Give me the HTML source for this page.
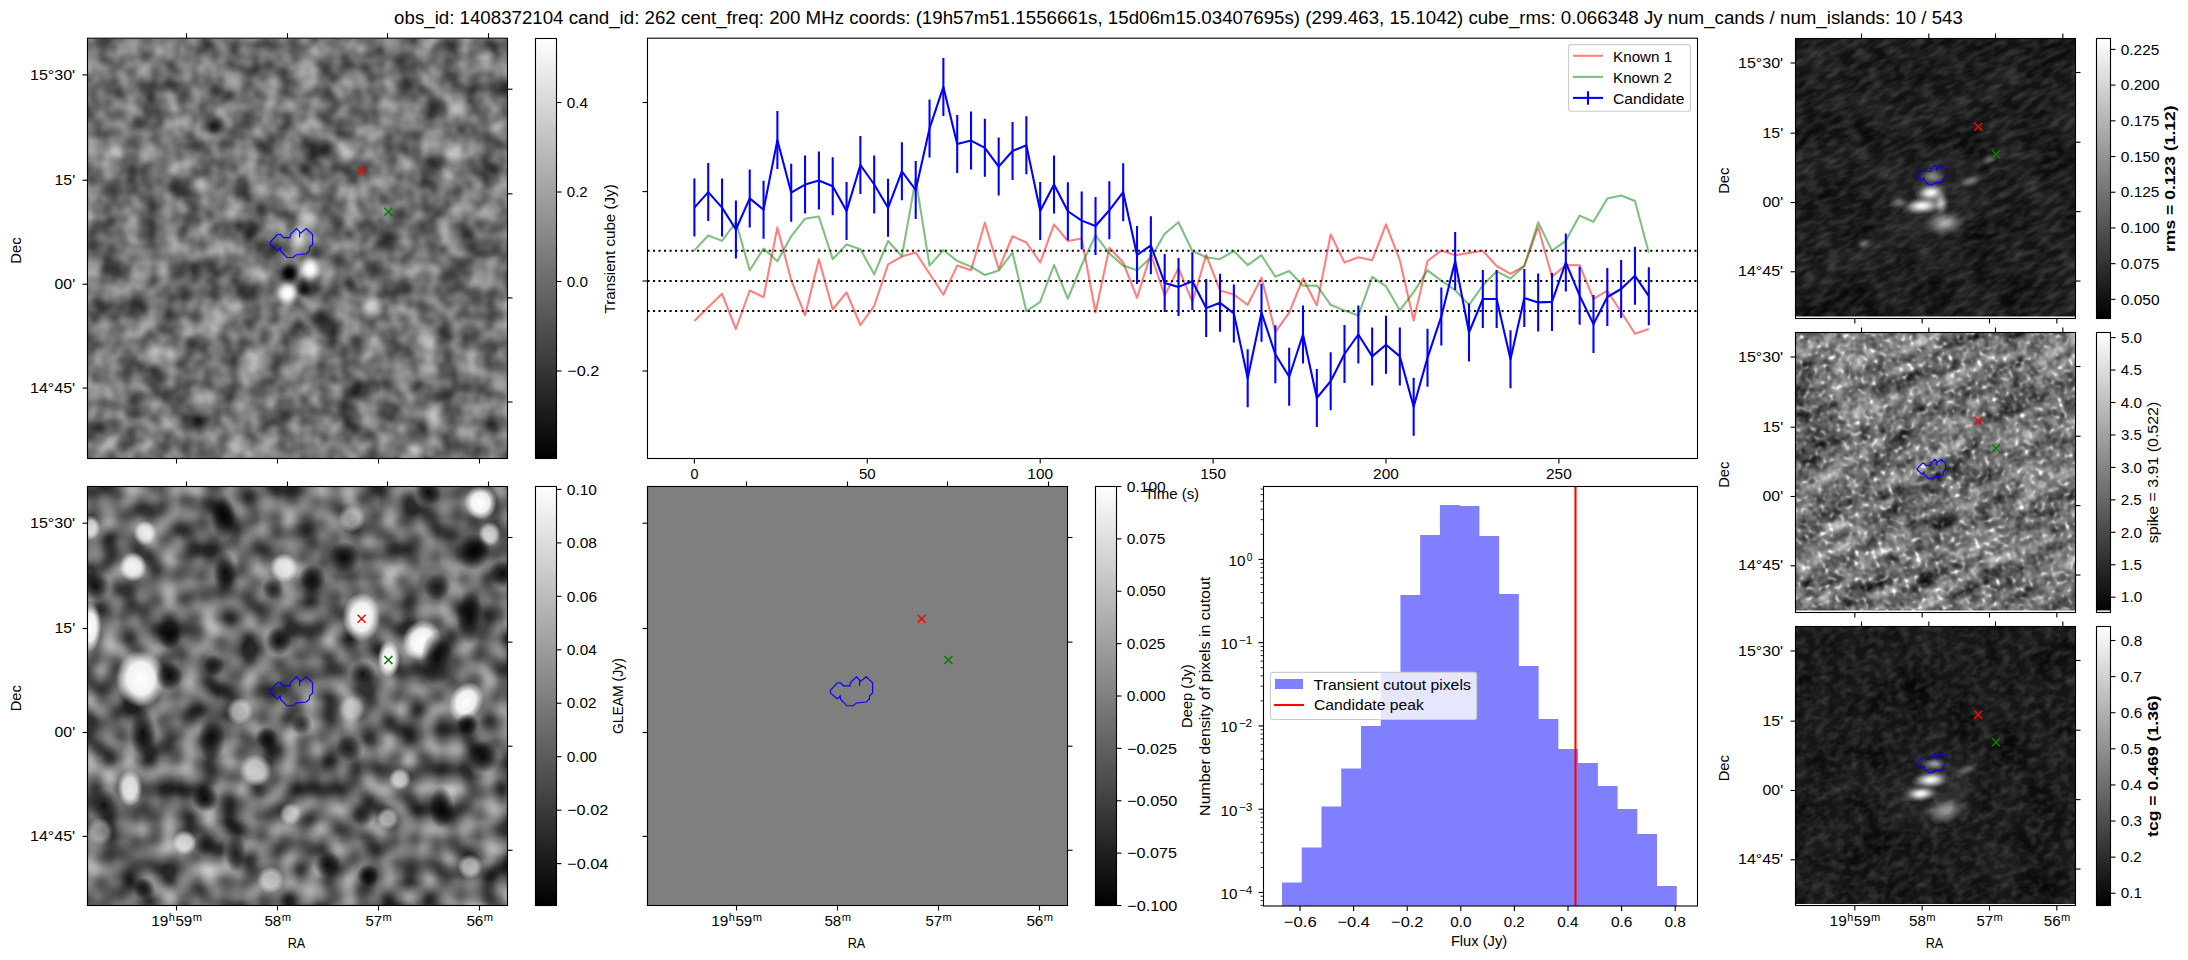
<!DOCTYPE html><html><head><meta charset="utf-8"><style>html,body{margin:0;padding:0;background:#fff;overflow:hidden}svg{display:block}text{font-family:"Liberation Sans",sans-serif}</style></head><body>
<svg width="2188" height="960" viewBox="0 0 2188 960">
<rect x="0" y="0" width="2188" height="960" fill="#fff"/>
<defs>
<linearGradient id="cmap" x1="0" y1="1" x2="0" y2="0"><stop offset="0" stop-color="#000"/><stop offset="1" stop-color="#fff"/></linearGradient>
<filter id="nT1" x="0" y="0" width="1" height="1" color-interpolation-filters="sRGB"><feTurbulence type="fractalNoise" baseFrequency="0.05" numOctaves="2" seed="3" result="t1"/><feColorMatrix in="t1" type="matrix" values="0.7 0 0 0 -0.03 0.7 0 0 0 -0.03 0.7 0 0 0 -0.03 0 0 0 0 1" result="g1"/><feTurbulence type="fractalNoise" baseFrequency="0.03" numOctaves="1" seed="17" result="t2"/><feColorMatrix in="t2" type="matrix" values="0.25 0 0 0 0 0.25 0 0 0 0 0.25 0 0 0 0 0 0 0 0 1" result="g2"/><feComposite in="g1" in2="g2" operator="arithmetic" k1="0" k2="1" k3="1" k4="0" result="sum"/><feComponentTransfer in="sum"><feFuncA type="linear" slope="0" intercept="1"/></feComponentTransfer></filter>
<filter id="nB1" x="0" y="0" width="1" height="1" color-interpolation-filters="sRGB"><feTurbulence type="fractalNoise" baseFrequency="0.05" numOctaves="1" seed="7" result="t1"/><feColorMatrix in="t1" type="matrix" values="1.1 0 0 0 -0.3 1.1 0 0 0 -0.3 1.1 0 0 0 -0.3 0 0 0 0 1" result="g1"/><feTurbulence type="fractalNoise" baseFrequency="0.02" numOctaves="1" seed="21" result="t2"/><feColorMatrix in="t2" type="matrix" values="0.3 0 0 0 0 0.3 0 0 0 0 0.3 0 0 0 0 0 0 0 0 1" result="g2"/><feComposite in="g1" in2="g2" operator="arithmetic" k1="0" k2="1" k3="1" k4="0" result="sum"/><feComponentTransfer in="sum"><feFuncA type="linear" slope="0" intercept="1"/></feComponentTransfer></filter>
<filter id="nR1" x="0" y="0" width="1" height="1" color-interpolation-filters="sRGB"><feTurbulence type="fractalNoise" baseFrequency="0.07 0.16" numOctaves="2" seed="11" result="t1"/><feColorMatrix in="t1" type="matrix" values="0.3 0 0 0 -0.105 0.3 0 0 0 -0.105 0.3 0 0 0 -0.105 0 0 0 0 1" result="g1"/><feTurbulence type="fractalNoise" baseFrequency="0.03" numOctaves="1" seed="23" result="t2"/><feColorMatrix in="t2" type="matrix" values="0.15 0 0 0 0 0.15 0 0 0 0 0.15 0 0 0 0 0 0 0 0 1" result="g2"/><feComposite in="g1" in2="g2" operator="arithmetic" k1="0" k2="1" k3="1" k4="0" result="sum"/><feComponentTransfer in="sum"><feFuncA type="linear" slope="0" intercept="1"/></feComponentTransfer></filter>
<filter id="nR3" x="0" y="0" width="1" height="1" color-interpolation-filters="sRGB"><feTurbulence type="fractalNoise" baseFrequency="0.1 0.14" numOctaves="2" seed="13" result="t1"/><feColorMatrix in="t1" type="matrix" values="0.3 0 0 0 -0.115 0.3 0 0 0 -0.115 0.3 0 0 0 -0.115 0 0 0 0 1" result="g1"/><feTurbulence type="fractalNoise" baseFrequency="0.03" numOctaves="1" seed="29" result="t2"/><feColorMatrix in="t2" type="matrix" values="0.15 0 0 0 0 0.15 0 0 0 0 0.15 0 0 0 0 0 0 0 0 1" result="g2"/><feComposite in="g1" in2="g2" operator="arithmetic" k1="0" k2="1" k3="1" k4="0" result="sum"/><feComponentTransfer in="sum"><feFuncA type="linear" slope="0" intercept="1"/></feComponentTransfer></filter>
<filter id="nR2" x="0" y="0" width="1" height="1" color-interpolation-filters="sRGB"><feTurbulence type="fractalNoise" baseFrequency="0.1" numOctaves="2" seed="5" result="t1"/><feColorMatrix in="t1" type="matrix" values="0.6 0 0 0 0 0.6 0 0 0 0 0.6 0 0 0 0 0 0 0 0 1" result="g1"/><feTurbulence type="fractalNoise" baseFrequency="0.015 0.06" numOctaves="2" seed="9" result="t2"/><feColorMatrix in="t2" type="matrix" values="0.7 0 0 0 0 0.7 0 0 0 0 0.7 0 0 0 0 0 0 0 0 1" result="g2"/><feTurbulence type="fractalNoise" baseFrequency="0.2" numOctaves="1" seed="31" result="t3"/><feColorMatrix in="t3" type="matrix" values="1 0 0 0 0 1 0 0 0 0 1 0 0 0 0 0 0 0 0 1" result="g3a"/><feComponentTransfer in="g3a" result="g3"><feFuncR type="gamma" amplitude="2.5" exponent="6.0" offset="0"/><feFuncG type="gamma" amplitude="2.5" exponent="6.0" offset="0"/><feFuncB type="gamma" amplitude="2.5" exponent="6.0" offset="0"/><feFuncA type="linear" slope="0" intercept="1"/></feComponentTransfer><feComposite in="g1" in2="g2" operator="arithmetic" k1="0" k2="1" k3="1" k4="-0.25" result="s12"/><feComposite in="s12" in2="g3" operator="arithmetic" k1="0" k2="1" k3="1" k4="0" result="sum"/><feComponentTransfer in="sum"><feFuncR type="linear" slope="1" intercept="0"/><feFuncG type="linear" slope="1" intercept="0"/><feFuncB type="linear" slope="1" intercept="0"/><feFuncA type="linear" slope="0" intercept="1"/></feComponentTransfer></filter>
<radialGradient id="blobW"><stop offset="0" stop-color="#fff" stop-opacity="1"/><stop offset="0.55" stop-color="#fff" stop-opacity="0.9"/><stop offset="1" stop-color="#fff" stop-opacity="0"/></radialGradient>
<radialGradient id="blobS"><stop offset="0" stop-color="#fff" stop-opacity="1"/><stop offset="0.25" stop-color="#fff" stop-opacity="0.85"/><stop offset="0.5" stop-color="#fff" stop-opacity="0.5"/><stop offset="0.75" stop-color="#fff" stop-opacity="0.17"/><stop offset="1" stop-color="#fff" stop-opacity="0"/></radialGradient>
<radialGradient id="blobKS"><stop offset="0" stop-color="#000" stop-opacity="1"/><stop offset="0.25" stop-color="#000" stop-opacity="0.82"/><stop offset="0.5" stop-color="#000" stop-opacity="0.45"/><stop offset="0.75" stop-color="#000" stop-opacity="0.15"/><stop offset="1" stop-color="#000" stop-opacity="0"/></radialGradient>
<radialGradient id="blobK"><stop offset="0" stop-color="#000" stop-opacity="0.9"/><stop offset="0.5" stop-color="#000" stop-opacity="0.6"/><stop offset="1" stop-color="#000" stop-opacity="0"/></radialGradient>
<clipPath id="cT1"><rect x="88" y="38.5" width="419" height="419.5"/></clipPath>
<clipPath id="cB1"><rect x="88" y="487" width="419" height="418"/></clipPath>
<clipPath id="cR1"><rect x="1796" y="39" width="279" height="277.5"/></clipPath>
<clipPath id="cR2"><rect x="1796" y="333" width="279" height="277.5"/></clipPath>
<clipPath id="cR3"><rect x="1796" y="627" width="279" height="277"/></clipPath>
</defs>
<text x="394.14" y="23.90" font-size="17.66" textLength="1568.73" lengthAdjust="spacingAndGlyphs" fill="#000">obs_id: 1408372104 cand_id: 262 cent_freq: 200 MHz coords: (19h57m51.1556661s, 15d06m15.03407695s) (299.463, 15.1042) cube_rms: 0.066348 Jy num_cands / num_islands: 10 / 543</text>
<g clip-path="url(#cT1)">
<rect x="87.5" y="38.2" width="420" height="420" filter="url(#nT1)"/>
<ellipse cx="213.90" cy="126.60" rx="14.40" ry="14.40" fill="url(#blobKS)" opacity="0.786"/>
<ellipse cx="174.50" cy="186.80" rx="16.20" ry="16.20" fill="url(#blobKS)" opacity="0.573"/>
<ellipse cx="111.10" cy="189.00" rx="14.40" ry="14.40" fill="url(#blobKS)" opacity="0.530"/>
<ellipse cx="262.00" cy="210.80" rx="14.40" ry="14.40" fill="url(#blobKS)" opacity="0.573"/>
<ellipse cx="268.60" cy="147.40" rx="16.20" ry="16.20" fill="url(#blobKS)" opacity="0.402"/>
<ellipse cx="183.30" cy="97.00" rx="14.40" ry="14.40" fill="url(#blobKS)" opacity="0.402"/>
<ellipse cx="131.80" cy="73.00" rx="14.40" ry="14.40" fill="url(#blobKS)" opacity="0.359"/>
<ellipse cx="218.30" cy="90.50" rx="14.40" ry="14.40" fill="url(#blobKS)" opacity="0.359"/>
<ellipse cx="137.30" cy="121.10" rx="12.60" ry="12.60" fill="url(#blobKS)" opacity="0.316"/>
<ellipse cx="159.20" cy="119.00" rx="10.80" ry="10.80" fill="url(#blobKS)" opacity="0.274"/>
<ellipse cx="240.00" cy="182.40" rx="12.60" ry="12.60" fill="url(#blobKS)" opacity="0.316"/>
<ellipse cx="248.90" cy="121.10" rx="18.00" ry="18.00" fill="url(#blobKS)" opacity="0.316"/>
<ellipse cx="100.00" cy="42.40" rx="14.40" ry="14.40" fill="url(#blobKS)" opacity="0.316"/>
<ellipse cx="189.80" cy="219.60" rx="14.40" ry="14.40" fill="url(#blobKS)" opacity="0.359"/>
<ellipse cx="253.30" cy="230.50" rx="14.40" ry="14.40" fill="url(#blobKS)" opacity="0.316"/>
<ellipse cx="95.80" cy="230.50" rx="14.40" ry="14.40" fill="url(#blobKS)" opacity="0.402"/>
<ellipse cx="235.80" cy="81.80" rx="14.40" ry="14.40" fill="url(#blobS)" opacity="0.348"/>
<ellipse cx="148.30" cy="151.80" rx="14.40" ry="14.40" fill="url(#blobS)" opacity="0.348"/>
<ellipse cx="200.80" cy="184.60" rx="14.40" ry="14.40" fill="url(#blobS)" opacity="0.348"/>
<ellipse cx="259.80" cy="189.00" rx="14.40" ry="14.40" fill="url(#blobS)" opacity="0.420"/>
<ellipse cx="292.60" cy="108.00" rx="14.40" ry="14.40" fill="url(#blobS)" opacity="0.420"/>
<ellipse cx="91.40" cy="151.80" rx="14.40" ry="14.40" fill="url(#blobS)" opacity="0.348"/>
<ellipse cx="183.30" cy="121.10" rx="12.60" ry="12.60" fill="url(#blobS)" opacity="0.312"/>
<ellipse cx="200.80" cy="92.70" rx="14.40" ry="14.40" fill="url(#blobS)" opacity="0.239"/>
<ellipse cx="146.00" cy="66.40" rx="14.40" ry="14.40" fill="url(#blobS)" opacity="0.239"/>
<ellipse cx="220.40" cy="49.00" rx="14.40" ry="14.40" fill="url(#blobS)" opacity="0.239"/>
<ellipse cx="231.40" cy="156.00" rx="14.40" ry="14.40" fill="url(#blobS)" opacity="0.239"/>
<ellipse cx="170.00" cy="230.50" rx="14.40" ry="14.40" fill="url(#blobS)" opacity="0.239"/>
<ellipse cx="325.40" cy="149.60" rx="16.20" ry="16.20" fill="url(#blobKS)" opacity="0.744"/>
<ellipse cx="432.60" cy="162.70" rx="18.00" ry="18.00" fill="url(#blobKS)" opacity="0.701"/>
<ellipse cx="402.00" cy="57.70" rx="16.20" ry="16.20" fill="url(#blobKS)" opacity="0.530"/>
<ellipse cx="399.80" cy="88.30" rx="14.40" ry="14.40" fill="url(#blobKS)" opacity="0.359"/>
<ellipse cx="434.80" cy="108.00" rx="16.20" ry="16.20" fill="url(#blobKS)" opacity="0.402"/>
<ellipse cx="327.60" cy="64.30" rx="14.40" ry="14.40" fill="url(#blobKS)" opacity="0.316"/>
<ellipse cx="504.80" cy="86.00" rx="14.40" ry="14.40" fill="url(#blobKS)" opacity="0.402"/>
<ellipse cx="332.00" cy="186.80" rx="12.60" ry="12.60" fill="url(#blobKS)" opacity="0.359"/>
<ellipse cx="399.80" cy="215.20" rx="14.40" ry="14.40" fill="url(#blobKS)" opacity="0.444"/>
<ellipse cx="338.60" cy="219.60" rx="14.40" ry="14.40" fill="url(#blobKS)" opacity="0.359"/>
<ellipse cx="384.50" cy="239.30" rx="14.40" ry="14.40" fill="url(#blobKS)" opacity="0.359"/>
<ellipse cx="356.00" cy="94.90" rx="14.40" ry="14.40" fill="url(#blobKS)" opacity="0.274"/>
<ellipse cx="489.50" cy="143.00" rx="14.40" ry="14.40" fill="url(#blobKS)" opacity="0.274"/>
<ellipse cx="458.90" cy="105.80" rx="14.40" ry="14.40" fill="url(#blobS)" opacity="0.420"/>
<ellipse cx="454.50" cy="156.10" rx="14.40" ry="14.40" fill="url(#blobS)" opacity="0.384"/>
<ellipse cx="347.30" cy="149.60" rx="14.40" ry="14.40" fill="url(#blobS)" opacity="0.348"/>
<ellipse cx="378.00" cy="182.40" rx="14.40" ry="14.40" fill="url(#blobS)" opacity="0.384"/>
<ellipse cx="406.40" cy="164.90" rx="16.20" ry="16.20" fill="url(#blobS)" opacity="0.348"/>
<ellipse cx="308.00" cy="219.60" rx="14.40" ry="14.40" fill="url(#blobS)" opacity="0.601"/>
<ellipse cx="489.50" cy="208.60" rx="16.20" ry="16.20" fill="url(#blobS)" opacity="0.312"/>
<ellipse cx="485.10" cy="59.90" rx="14.40" ry="14.40" fill="url(#blobS)" opacity="0.348"/>
<ellipse cx="303.60" cy="83.90" rx="14.40" ry="14.40" fill="url(#blobS)" opacity="0.348"/>
<ellipse cx="360.40" cy="77.40" rx="14.40" ry="14.40" fill="url(#blobS)" opacity="0.239"/>
<ellipse cx="437.00" cy="134.30" rx="14.40" ry="14.40" fill="url(#blobS)" opacity="0.239"/>
<ellipse cx="288.30" cy="273.20" rx="14.40" ry="14.40" fill="url(#blobKS)" opacity="0.915"/>
<ellipse cx="198.60" cy="420.80" rx="14.40" ry="14.40" fill="url(#blobKS)" opacity="0.786"/>
<ellipse cx="283.90" cy="414.30" rx="16.20" ry="16.20" fill="url(#blobKS)" opacity="0.615"/>
<ellipse cx="192.00" cy="344.30" rx="14.40" ry="14.40" fill="url(#blobKS)" opacity="0.573"/>
<ellipse cx="157.00" cy="377.10" rx="16.20" ry="16.20" fill="url(#blobKS)" opacity="0.487"/>
<ellipse cx="194.20" cy="318.00" rx="12.60" ry="12.60" fill="url(#blobKS)" opacity="0.359"/>
<ellipse cx="242.30" cy="287.40" rx="14.40" ry="14.40" fill="url(#blobKS)" opacity="0.402"/>
<ellipse cx="279.50" cy="361.80" rx="14.40" ry="14.40" fill="url(#blobKS)" opacity="0.487"/>
<ellipse cx="139.50" cy="300.50" rx="16.20" ry="16.20" fill="url(#blobKS)" opacity="0.444"/>
<ellipse cx="108.90" cy="269.90" rx="14.40" ry="14.40" fill="url(#blobKS)" opacity="0.359"/>
<ellipse cx="100.10" cy="302.70" rx="14.40" ry="14.40" fill="url(#blobKS)" opacity="0.359"/>
<ellipse cx="209.50" cy="261.10" rx="14.40" ry="14.40" fill="url(#blobKS)" opacity="0.359"/>
<ellipse cx="183.30" cy="294.00" rx="14.40" ry="14.40" fill="url(#blobKS)" opacity="0.316"/>
<ellipse cx="141.70" cy="396.80" rx="14.40" ry="14.40" fill="url(#blobKS)" opacity="0.359"/>
<ellipse cx="178.90" cy="401.10" rx="14.40" ry="14.40" fill="url(#blobKS)" opacity="0.316"/>
<ellipse cx="255.50" cy="390.20" rx="14.40" ry="14.40" fill="url(#blobKS)" opacity="0.316"/>
<ellipse cx="100.10" cy="427.40" rx="14.40" ry="14.40" fill="url(#blobKS)" opacity="0.359"/>
<ellipse cx="287.20" cy="292.80" rx="14.40" ry="14.40" fill="url(#blobS)" opacity="0.964"/>
<ellipse cx="218.30" cy="320.20" rx="16.20" ry="16.20" fill="url(#blobS)" opacity="0.420"/>
<ellipse cx="152.60" cy="355.20" rx="16.20" ry="16.20" fill="url(#blobS)" opacity="0.420"/>
<ellipse cx="259.80" cy="357.40" rx="18.00" ry="18.00" fill="url(#blobS)" opacity="0.384"/>
<ellipse cx="200.80" cy="399.00" rx="14.40" ry="14.40" fill="url(#blobS)" opacity="0.420"/>
<ellipse cx="100.10" cy="355.20" rx="14.40" ry="14.40" fill="url(#blobS)" opacity="0.312"/>
<ellipse cx="240.10" cy="409.90" rx="14.40" ry="14.40" fill="url(#blobS)" opacity="0.348"/>
<ellipse cx="141.70" cy="276.40" rx="14.40" ry="14.40" fill="url(#blobS)" opacity="0.275"/>
<ellipse cx="262.00" cy="278.60" rx="14.40" ry="14.40" fill="url(#blobS)" opacity="0.312"/>
<ellipse cx="240.10" cy="440.50" rx="14.40" ry="14.40" fill="url(#blobS)" opacity="0.312"/>
<ellipse cx="288.30" cy="368.30" rx="14.40" ry="14.40" fill="url(#blobS)" opacity="0.348"/>
<ellipse cx="321.10" cy="318.00" rx="18.00" ry="18.00" fill="url(#blobKS)" opacity="0.744"/>
<ellipse cx="303.60" cy="289.60" rx="12.60" ry="12.60" fill="url(#blobKS)" opacity="0.658"/>
<ellipse cx="371.40" cy="269.90" rx="16.20" ry="16.20" fill="url(#blobKS)" opacity="0.530"/>
<ellipse cx="454.50" cy="272.10" rx="19.80" ry="19.80" fill="url(#blobKS)" opacity="0.487"/>
<ellipse cx="426.10" cy="309.30" rx="14.40" ry="14.40" fill="url(#blobKS)" opacity="0.402"/>
<ellipse cx="356.00" cy="344.30" rx="16.20" ry="16.20" fill="url(#blobKS)" opacity="0.444"/>
<ellipse cx="445.80" cy="335.50" rx="16.20" ry="16.20" fill="url(#blobKS)" opacity="0.444"/>
<ellipse cx="356.00" cy="390.20" rx="14.40" ry="14.40" fill="url(#blobKS)" opacity="0.402"/>
<ellipse cx="439.20" cy="396.80" rx="14.40" ry="14.40" fill="url(#blobKS)" opacity="0.444"/>
<ellipse cx="491.70" cy="427.40" rx="14.40" ry="14.40" fill="url(#blobKS)" opacity="0.402"/>
<ellipse cx="413.00" cy="436.10" rx="14.40" ry="14.40" fill="url(#blobKS)" opacity="0.402"/>
<ellipse cx="371.40" cy="324.60" rx="14.40" ry="14.40" fill="url(#blobKS)" opacity="0.359"/>
<ellipse cx="336.40" cy="259.00" rx="14.40" ry="14.40" fill="url(#blobKS)" opacity="0.530"/>
<ellipse cx="476.40" cy="296.10" rx="14.40" ry="14.40" fill="url(#blobKS)" opacity="0.359"/>
<ellipse cx="406.40" cy="287.40" rx="14.40" ry="14.40" fill="url(#blobKS)" opacity="0.359"/>
<ellipse cx="485.10" cy="346.40" rx="14.40" ry="14.40" fill="url(#blobKS)" opacity="0.359"/>
<ellipse cx="310.10" cy="269.90" rx="14.40" ry="14.40" fill="url(#blobS)" opacity="0.891"/>
<ellipse cx="371.40" cy="307.10" rx="14.40" ry="14.40" fill="url(#blobS)" opacity="0.638"/>
<ellipse cx="434.80" cy="416.50" rx="16.20" ry="16.20" fill="url(#blobS)" opacity="0.457"/>
<ellipse cx="423.90" cy="337.70" rx="18.00" ry="18.00" fill="url(#blobS)" opacity="0.312"/>
<ellipse cx="485.10" cy="278.60" rx="16.20" ry="16.20" fill="url(#blobS)" opacity="0.348"/>
<ellipse cx="428.30" cy="370.50" rx="14.40" ry="14.40" fill="url(#blobS)" opacity="0.312"/>
<ellipse cx="299.20" cy="368.30" rx="14.40" ry="14.40" fill="url(#blobS)" opacity="0.384"/>
<ellipse cx="402.00" cy="383.60" rx="14.40" ry="14.40" fill="url(#blobS)" opacity="0.312"/>
<ellipse cx="373.60" cy="342.00" rx="14.40" ry="14.40" fill="url(#blobS)" opacity="0.275"/>
<ellipse cx="498.30" cy="383.60" rx="14.40" ry="14.40" fill="url(#blobS)" opacity="0.312"/>
<ellipse cx="384.50" cy="442.70" rx="14.40" ry="14.40" fill="url(#blobS)" opacity="0.239"/>
<ellipse cx="299.00" cy="236.00" rx="12.00" ry="20.00" fill="url(#blobS)" opacity="0.783"/>
<ellipse cx="310.40" cy="268.50" rx="11.00" ry="15.00" fill="url(#blobS)" opacity="1.000"/>
<ellipse cx="289.60" cy="273.00" rx="11.00" ry="13.00" fill="url(#blobKS)" opacity="1.000"/>
<ellipse cx="287.50" cy="293.50" rx="11.00" ry="12.00" fill="url(#blobS)" opacity="1.000"/>
<ellipse cx="305.20" cy="289.60" rx="9.00" ry="9.00" fill="url(#blobKS)" opacity="0.658"/>
</g>
<polygon points="270.40,242.00 277.40,234.50 280.50,234.50 283.50,237.60 290.10,237.60 290.30,234.50 296.50,228.50 299.70,231.70 299.60,237.60 299.70,233.80 306.30,228.50 312.60,234.50 312.60,244.60 309.50,247.60 309.50,250.70 306.30,253.70 296.40,254.70 293.10,257.50 287.00,257.50 280.50,250.90 280.20,247.60 277.40,250.70 270.40,244.60" fill="none" stroke="#0000ff" stroke-width="1.1" stroke-linejoin="miter"/>
<path d="M357.60,166.50L365.60,174.50M357.60,174.50L365.60,166.50" stroke="#ff0000" stroke-width="1.5" fill="none"/>
<path d="M384.40,207.70L392.40,215.70M384.40,215.70L392.40,207.70" stroke="#008000" stroke-width="1.5" fill="none"/>
<rect x="87.50" y="38.20" width="420.00" height="420.30" fill="none" stroke="#000" stroke-width="1.1"/>
<line x1="82.50" y1="74.90" x2="87.50" y2="74.90" stroke="#000" stroke-width="1.1"/>
<text x="30.00" y="79.50" font-size="14.72" textLength="45.17" lengthAdjust="spacingAndGlyphs" fill="#000">15°30'</text>
<line x1="82.50" y1="180.20" x2="87.50" y2="180.20" stroke="#000" stroke-width="1.1"/>
<text x="54.52" y="184.80" font-size="14.72" textLength="20.65" lengthAdjust="spacingAndGlyphs" fill="#000">15'</text>
<line x1="82.50" y1="284.20" x2="87.50" y2="284.20" stroke="#000" stroke-width="1.1"/>
<text x="54.62" y="288.80" font-size="14.72" textLength="20.54" lengthAdjust="spacingAndGlyphs" fill="#000">00'</text>
<line x1="82.50" y1="388.10" x2="87.50" y2="388.10" stroke="#000" stroke-width="1.1"/>
<text x="30.00" y="392.70" font-size="14.72" textLength="45.17" lengthAdjust="spacingAndGlyphs" fill="#000">14°45'</text>
<line x1="507.50" y1="89.20" x2="512.50" y2="89.20" stroke="#000" stroke-width="1.1"/>
<line x1="507.50" y1="193.80" x2="512.50" y2="193.80" stroke="#000" stroke-width="1.1"/>
<line x1="507.50" y1="297.90" x2="512.50" y2="297.90" stroke="#000" stroke-width="1.1"/>
<line x1="507.50" y1="402.00" x2="512.50" y2="402.00" stroke="#000" stroke-width="1.1"/>
<line x1="186.50" y1="33.20" x2="186.50" y2="38.20" stroke="#000" stroke-width="1.1"/>
<line x1="287.50" y1="33.20" x2="287.50" y2="38.20" stroke="#000" stroke-width="1.1"/>
<line x1="387.50" y1="33.20" x2="387.50" y2="38.20" stroke="#000" stroke-width="1.1"/>
<line x1="488.50" y1="33.20" x2="488.50" y2="38.20" stroke="#000" stroke-width="1.1"/>
<line x1="176.50" y1="458.50" x2="176.50" y2="463.50" stroke="#000" stroke-width="1.1"/>
<line x1="277.50" y1="458.50" x2="277.50" y2="463.50" stroke="#000" stroke-width="1.1"/>
<line x1="378.50" y1="458.50" x2="378.50" y2="463.50" stroke="#000" stroke-width="1.1"/>
<line x1="479.50" y1="458.50" x2="479.50" y2="463.50" stroke="#000" stroke-width="1.1"/>
<text transform="translate(20.90,263.64) rotate(-90)" x="0" y="0" font-size="14.72" textLength="26.25" lengthAdjust="spacingAndGlyphs" fill="#000">Dec</text>
<rect x="535.50" y="38.50" width="21.00" height="420.00" fill="url(#cmap)" stroke="#000" stroke-width="1.1"/>
<line x1="556.50" y1="102.50" x2="561.50" y2="102.50" stroke="#000" stroke-width="1.1"/>
<text x="566.82" y="107.70" font-size="14.72" textLength="21.22" lengthAdjust="spacingAndGlyphs" fill="#000">0.4</text>
<line x1="556.50" y1="192.00" x2="561.50" y2="192.00" stroke="#000" stroke-width="1.1"/>
<text x="566.83" y="197.20" font-size="14.72" textLength="20.91" lengthAdjust="spacingAndGlyphs" fill="#000">0.2</text>
<line x1="556.50" y1="281.50" x2="561.50" y2="281.50" stroke="#000" stroke-width="1.1"/>
<text x="566.82" y="286.70" font-size="14.72" textLength="21.23" lengthAdjust="spacingAndGlyphs" fill="#000">0.0</text>
<line x1="556.50" y1="371.00" x2="561.50" y2="371.00" stroke="#000" stroke-width="1.1"/>
<text x="567.17" y="376.20" font-size="14.72" textLength="32.27" lengthAdjust="spacingAndGlyphs" fill="#000">−0.2</text>
<text transform="translate(614.50,313.38) rotate(-90)" x="0" y="0" font-size="14.72" textLength="129.13" lengthAdjust="spacingAndGlyphs" fill="#000">Transient cube (Jy)</text>
<g clip-path="url(#cB1)">
<rect x="87.5" y="486.5" width="420" height="419" filter="url(#nB1)"/>
<ellipse cx="140.80" cy="678.50" rx="25.00" ry="28.75" fill="url(#blobW)" opacity="1.000"/>
<ellipse cx="361.50" cy="617.30" rx="18.75" ry="25.00" fill="url(#blobW)" opacity="1.000"/>
<ellipse cx="421.70" cy="640.20" rx="18.75" ry="21.25" fill="url(#blobW)" opacity="1.000" transform="rotate(30.0 421.70 640.20)"/>
<ellipse cx="388.90" cy="658.80" rx="11.25" ry="18.75" fill="url(#blobW)" opacity="1.000"/>
<ellipse cx="480.80" cy="502.40" rx="16.25" ry="17.50" fill="url(#blobW)" opacity="1.000"/>
<ellipse cx="466.00" cy="702.00" rx="16.25" ry="21.25" fill="url(#blobW)" opacity="1.000" transform="rotate(30.0 466.00 702.00)"/>
<ellipse cx="90.00" cy="627.00" rx="11.25" ry="25.00" fill="url(#blobW)" opacity="1.000"/>
<ellipse cx="133.00" cy="567.00" rx="13.75" ry="15.00" fill="url(#blobW)" opacity="0.871"/>
<ellipse cx="145.00" cy="533.00" rx="11.25" ry="12.50" fill="url(#blobW)" opacity="0.742"/>
<ellipse cx="283.90" cy="568.00" rx="13.75" ry="15.00" fill="url(#blobW)" opacity="0.806"/>
<ellipse cx="90.30" cy="527.60" rx="10.00" ry="12.50" fill="url(#blobW)" opacity="0.774"/>
<ellipse cx="351.70" cy="518.80" rx="13.75" ry="13.75" fill="url(#blobW)" opacity="0.484"/>
<ellipse cx="489.50" cy="534.00" rx="11.25" ry="12.50" fill="url(#blobW)" opacity="0.645"/>
<ellipse cx="129.70" cy="787.90" rx="12.50" ry="18.75" fill="url(#blobW)" opacity="0.871"/>
<ellipse cx="184.40" cy="842.60" rx="12.50" ry="12.50" fill="url(#blobW)" opacity="0.742"/>
<ellipse cx="255.50" cy="770.40" rx="16.25" ry="16.25" fill="url(#blobW)" opacity="0.645"/>
<ellipse cx="240.10" cy="711.30" rx="13.75" ry="13.75" fill="url(#blobW)" opacity="0.581"/>
<ellipse cx="270.80" cy="879.80" rx="13.75" ry="13.75" fill="url(#blobW)" opacity="0.613"/>
<ellipse cx="100.00" cy="831.60" rx="13.75" ry="13.75" fill="url(#blobW)" opacity="0.452"/>
<ellipse cx="290.50" cy="814.00" rx="11.25" ry="11.25" fill="url(#blobW)" opacity="0.516"/>
<ellipse cx="399.80" cy="779.10" rx="11.25" ry="11.25" fill="url(#blobW)" opacity="0.645"/>
<ellipse cx="387.80" cy="818.50" rx="11.25" ry="11.25" fill="url(#blobW)" opacity="0.581"/>
<ellipse cx="469.80" cy="866.60" rx="12.50" ry="12.50" fill="url(#blobW)" opacity="0.613"/>
<ellipse cx="351.70" cy="709.00" rx="13.75" ry="13.75" fill="url(#blobW)" opacity="0.452"/>
<ellipse cx="224.80" cy="571.30" rx="12.50" ry="20.00" fill="url(#blobK)" opacity="1.000"/>
<ellipse cx="222.60" cy="516.60" rx="12.50" ry="22.50" fill="url(#blobK)" opacity="1.000"/>
<ellipse cx="95.70" cy="586.60" rx="15.00" ry="15.00" fill="url(#blobK)" opacity="1.000"/>
<ellipse cx="169.00" cy="637.00" rx="12.50" ry="12.50" fill="url(#blobK)" opacity="0.900"/>
<ellipse cx="278.40" cy="641.30" rx="13.75" ry="15.00" fill="url(#blobK)" opacity="1.000"/>
<ellipse cx="169.00" cy="676.30" rx="13.75" ry="15.00" fill="url(#blobK)" opacity="1.000"/>
<ellipse cx="273.00" cy="588.80" rx="11.25" ry="11.25" fill="url(#blobK)" opacity="0.800"/>
<ellipse cx="213.90" cy="665.40" rx="11.25" ry="11.25" fill="url(#blobK)" opacity="0.800"/>
<ellipse cx="344.00" cy="558.20" rx="16.25" ry="16.25" fill="url(#blobK)" opacity="1.000"/>
<ellipse cx="428.30" cy="492.60" rx="13.75" ry="13.75" fill="url(#blobK)" opacity="1.000"/>
<ellipse cx="472.00" cy="551.60" rx="18.75" ry="18.75" fill="url(#blobK)" opacity="1.000"/>
<ellipse cx="502.60" cy="573.50" rx="13.75" ry="15.00" fill="url(#blobK)" opacity="1.000"/>
<ellipse cx="437.00" cy="658.80" rx="16.25" ry="27.50" fill="url(#blobK)" opacity="1.000"/>
<ellipse cx="362.60" cy="674.00" rx="13.75" ry="13.75" fill="url(#blobK)" opacity="1.000"/>
<ellipse cx="469.80" cy="617.30" rx="13.75" ry="27.50" fill="url(#blobK)" opacity="1.000"/>
<ellipse cx="437.00" cy="586.60" rx="13.75" ry="13.75" fill="url(#blobK)" opacity="0.900"/>
<ellipse cx="312.30" cy="577.90" rx="13.75" ry="13.75" fill="url(#blobK)" opacity="0.900"/>
<ellipse cx="104.50" cy="805.40" rx="16.25" ry="16.25" fill="url(#blobK)" opacity="1.000"/>
<ellipse cx="142.80" cy="733.20" rx="13.75" ry="23.75" fill="url(#blobK)" opacity="1.000"/>
<ellipse cx="211.70" cy="737.60" rx="13.75" ry="23.75" fill="url(#blobK)" opacity="1.000"/>
<ellipse cx="205.10" cy="798.80" rx="13.75" ry="13.75" fill="url(#blobK)" opacity="1.000"/>
<ellipse cx="266.40" cy="737.60" rx="11.25" ry="11.25" fill="url(#blobK)" opacity="0.900"/>
<ellipse cx="235.80" cy="853.50" rx="11.25" ry="18.75" fill="url(#blobK)" opacity="0.900"/>
<ellipse cx="205.00" cy="844.80" rx="11.25" ry="11.25" fill="url(#blobK)" opacity="0.800"/>
<ellipse cx="143.90" cy="888.50" rx="11.25" ry="11.25" fill="url(#blobK)" opacity="0.900"/>
<ellipse cx="483.00" cy="757.30" rx="16.25" ry="16.25" fill="url(#blobK)" opacity="1.000"/>
<ellipse cx="441.40" cy="807.60" rx="12.50" ry="21.25" fill="url(#blobK)" opacity="1.000"/>
<ellipse cx="349.50" cy="748.50" rx="13.75" ry="13.75" fill="url(#blobK)" opacity="0.850"/>
<ellipse cx="327.60" cy="864.50" rx="13.75" ry="13.75" fill="url(#blobK)" opacity="1.000"/>
<ellipse cx="368.10" cy="875.40" rx="11.25" ry="11.25" fill="url(#blobK)" opacity="1.000"/>
<ellipse cx="467.60" cy="724.40" rx="11.25" ry="11.25" fill="url(#blobK)" opacity="1.000"/>
<ellipse cx="301.40" cy="724.40" rx="11.25" ry="11.25" fill="url(#blobK)" opacity="0.800"/>
<ellipse cx="362.60" cy="816.30" rx="11.25" ry="11.25" fill="url(#blobK)" opacity="0.700"/>
</g>
<polygon points="270.40,690.30 277.40,682.80 280.50,682.80 283.50,685.90 290.10,685.90 290.30,682.80 296.50,676.80 299.70,680.00 299.60,685.90 299.70,682.10 306.30,676.80 312.60,682.80 312.60,692.90 309.50,695.90 309.50,699.00 306.30,702.00 296.40,703.00 293.10,705.80 287.00,705.80 280.50,699.20 280.20,695.90 277.40,699.00 270.40,692.90" fill="none" stroke="#0000ff" stroke-width="1.1" stroke-linejoin="miter"/>
<path d="M357.60,614.80L365.60,622.80M357.60,622.80L365.60,614.80" stroke="#ff0000" stroke-width="1.5" fill="none"/>
<path d="M384.40,656.00L392.40,664.00M384.40,664.00L392.40,656.00" stroke="#008000" stroke-width="1.5" fill="none"/>
<rect x="87.50" y="486.50" width="420.00" height="419.00" fill="none" stroke="#000" stroke-width="1.1"/>
<line x1="82.50" y1="523.20" x2="87.50" y2="523.20" stroke="#000" stroke-width="1.1"/>
<text x="30.00" y="527.80" font-size="14.72" textLength="45.17" lengthAdjust="spacingAndGlyphs" fill="#000">15°30'</text>
<line x1="82.50" y1="628.50" x2="87.50" y2="628.50" stroke="#000" stroke-width="1.1"/>
<text x="54.52" y="633.10" font-size="14.72" textLength="20.65" lengthAdjust="spacingAndGlyphs" fill="#000">15'</text>
<line x1="82.50" y1="732.50" x2="87.50" y2="732.50" stroke="#000" stroke-width="1.1"/>
<text x="54.62" y="737.10" font-size="14.72" textLength="20.54" lengthAdjust="spacingAndGlyphs" fill="#000">00'</text>
<line x1="82.50" y1="836.40" x2="87.50" y2="836.40" stroke="#000" stroke-width="1.1"/>
<text x="30.00" y="841.00" font-size="14.72" textLength="45.17" lengthAdjust="spacingAndGlyphs" fill="#000">14°45'</text>
<line x1="507.50" y1="537.50" x2="512.50" y2="537.50" stroke="#000" stroke-width="1.1"/>
<line x1="507.50" y1="642.10" x2="512.50" y2="642.10" stroke="#000" stroke-width="1.1"/>
<line x1="507.50" y1="746.20" x2="512.50" y2="746.20" stroke="#000" stroke-width="1.1"/>
<line x1="507.50" y1="850.30" x2="512.50" y2="850.30" stroke="#000" stroke-width="1.1"/>
<line x1="186.50" y1="481.50" x2="186.50" y2="486.50" stroke="#000" stroke-width="1.1"/>
<line x1="287.50" y1="481.50" x2="287.50" y2="486.50" stroke="#000" stroke-width="1.1"/>
<line x1="387.50" y1="481.50" x2="387.50" y2="486.50" stroke="#000" stroke-width="1.1"/>
<line x1="488.50" y1="481.50" x2="488.50" y2="486.50" stroke="#000" stroke-width="1.1"/>
<line x1="176.50" y1="905.50" x2="176.50" y2="910.50" stroke="#000" stroke-width="1.1"/>
<text x="151.29" y="925.60" font-size="14.72" textLength="17.15" lengthAdjust="spacingAndGlyphs" fill="#000">19</text>
<text x="168.82" y="920.60" font-size="10.30" textLength="5.99" lengthAdjust="spacingAndGlyphs" fill="#000">h</text>
<text x="175.40" y="925.60" font-size="14.72" textLength="16.91" lengthAdjust="spacingAndGlyphs" fill="#000">59</text>
<text x="192.71" y="920.60" font-size="10.30" textLength="9.26" lengthAdjust="spacingAndGlyphs" fill="#000">m</text>
<line x1="277.50" y1="905.50" x2="277.50" y2="910.50" stroke="#000" stroke-width="1.1"/>
<text x="264.40" y="925.60" font-size="14.72" textLength="16.87" lengthAdjust="spacingAndGlyphs" fill="#000">58</text>
<text x="281.71" y="920.60" font-size="10.30" textLength="9.26" lengthAdjust="spacingAndGlyphs" fill="#000">m</text>
<line x1="378.50" y1="905.50" x2="378.50" y2="910.50" stroke="#000" stroke-width="1.1"/>
<text x="365.47" y="925.60" font-size="14.72" textLength="16.59" lengthAdjust="spacingAndGlyphs" fill="#000">57</text>
<text x="382.64" y="920.60" font-size="10.30" textLength="9.26" lengthAdjust="spacingAndGlyphs" fill="#000">m</text>
<line x1="479.50" y1="905.50" x2="479.50" y2="910.50" stroke="#000" stroke-width="1.1"/>
<text x="466.40" y="925.60" font-size="14.72" textLength="16.96" lengthAdjust="spacingAndGlyphs" fill="#000">56</text>
<text x="483.71" y="920.60" font-size="10.30" textLength="9.26" lengthAdjust="spacingAndGlyphs" fill="#000">m</text>
<text transform="translate(20.90,711.29) rotate(-90)" x="0" y="0" font-size="14.72" textLength="26.25" lengthAdjust="spacingAndGlyphs" fill="#000">Dec</text>
<text x="287.66" y="947.70" font-size="14.72" textLength="17.56" lengthAdjust="spacingAndGlyphs" fill="#000">RA</text>
<rect x="535.50" y="486.50" width="21.00" height="419.00" fill="url(#cmap)" stroke="#000" stroke-width="1.1"/>
<line x1="556.50" y1="489.40" x2="561.50" y2="489.40" stroke="#000" stroke-width="1.1"/>
<text x="566.81" y="494.60" font-size="14.72" textLength="30.12" lengthAdjust="spacingAndGlyphs" fill="#000">0.10</text>
<line x1="556.50" y1="542.86" x2="561.50" y2="542.86" stroke="#000" stroke-width="1.1"/>
<text x="566.81" y="548.06" font-size="14.72" textLength="30.16" lengthAdjust="spacingAndGlyphs" fill="#000">0.08</text>
<line x1="556.50" y1="596.32" x2="561.50" y2="596.32" stroke="#000" stroke-width="1.1"/>
<text x="566.81" y="601.52" font-size="14.72" textLength="30.25" lengthAdjust="spacingAndGlyphs" fill="#000">0.06</text>
<line x1="556.50" y1="649.78" x2="561.50" y2="649.78" stroke="#000" stroke-width="1.1"/>
<text x="566.81" y="654.98" font-size="14.72" textLength="29.98" lengthAdjust="spacingAndGlyphs" fill="#000">0.04</text>
<line x1="556.50" y1="703.24" x2="561.50" y2="703.24" stroke="#000" stroke-width="1.1"/>
<text x="566.82" y="708.44" font-size="14.72" textLength="29.68" lengthAdjust="spacingAndGlyphs" fill="#000">0.02</text>
<line x1="556.50" y1="756.70" x2="561.50" y2="756.70" stroke="#000" stroke-width="1.1"/>
<text x="566.81" y="761.90" font-size="14.72" textLength="29.99" lengthAdjust="spacingAndGlyphs" fill="#000">0.00</text>
<line x1="556.50" y1="810.16" x2="561.50" y2="810.16" stroke="#000" stroke-width="1.1"/>
<text x="567.17" y="815.36" font-size="14.72" textLength="41.00" lengthAdjust="spacingAndGlyphs" fill="#000">−0.02</text>
<line x1="556.50" y1="863.62" x2="561.50" y2="863.62" stroke="#000" stroke-width="1.1"/>
<text x="567.17" y="868.82" font-size="14.72" textLength="41.28" lengthAdjust="spacingAndGlyphs" fill="#000">−0.04</text>
<text transform="translate(622.80,734.05) rotate(-90)" x="0" y="0" font-size="14.72" textLength="75.84" lengthAdjust="spacingAndGlyphs" fill="#000">GLEAM (Jy)</text>
<rect x="647.5" y="486.5" width="420" height="419" fill="#7f7f7f"/>
<polygon points="830.40,690.30 837.40,682.80 840.50,682.80 843.50,685.90 850.10,685.90 850.30,682.80 856.50,676.80 859.70,680.00 859.60,685.90 859.70,682.10 866.30,676.80 872.60,682.80 872.60,692.90 869.50,695.90 869.50,699.00 866.30,702.00 856.40,703.00 853.10,705.80 847.00,705.80 840.50,699.20 840.20,695.90 837.40,699.00 830.40,692.90" fill="none" stroke="#0000ff" stroke-width="1.1" stroke-linejoin="miter"/>
<path d="M917.60,614.80L925.60,622.80M917.60,622.80L925.60,614.80" stroke="#ff0000" stroke-width="1.5" fill="none"/>
<path d="M944.40,656.00L952.40,664.00M944.40,664.00L952.40,656.00" stroke="#008000" stroke-width="1.5" fill="none"/>
<rect x="647.50" y="486.50" width="420.00" height="419.00" fill="none" stroke="#000" stroke-width="1.1"/>
<line x1="642.50" y1="523.20" x2="647.50" y2="523.20" stroke="#000" stroke-width="1.1"/>
<line x1="642.50" y1="628.50" x2="647.50" y2="628.50" stroke="#000" stroke-width="1.1"/>
<line x1="642.50" y1="732.50" x2="647.50" y2="732.50" stroke="#000" stroke-width="1.1"/>
<line x1="642.50" y1="836.40" x2="647.50" y2="836.40" stroke="#000" stroke-width="1.1"/>
<line x1="1067.50" y1="537.50" x2="1072.50" y2="537.50" stroke="#000" stroke-width="1.1"/>
<line x1="1067.50" y1="642.10" x2="1072.50" y2="642.10" stroke="#000" stroke-width="1.1"/>
<line x1="1067.50" y1="746.20" x2="1072.50" y2="746.20" stroke="#000" stroke-width="1.1"/>
<line x1="1067.50" y1="850.30" x2="1072.50" y2="850.30" stroke="#000" stroke-width="1.1"/>
<line x1="746.50" y1="481.50" x2="746.50" y2="486.50" stroke="#000" stroke-width="1.1"/>
<line x1="847.50" y1="481.50" x2="847.50" y2="486.50" stroke="#000" stroke-width="1.1"/>
<line x1="947.50" y1="481.50" x2="947.50" y2="486.50" stroke="#000" stroke-width="1.1"/>
<line x1="1048.50" y1="481.50" x2="1048.50" y2="486.50" stroke="#000" stroke-width="1.1"/>
<line x1="736.50" y1="905.50" x2="736.50" y2="910.50" stroke="#000" stroke-width="1.1"/>
<text x="711.29" y="925.60" font-size="14.72" textLength="17.15" lengthAdjust="spacingAndGlyphs" fill="#000">19</text>
<text x="728.82" y="920.60" font-size="10.30" textLength="5.99" lengthAdjust="spacingAndGlyphs" fill="#000">h</text>
<text x="735.40" y="925.60" font-size="14.72" textLength="16.91" lengthAdjust="spacingAndGlyphs" fill="#000">59</text>
<text x="752.71" y="920.60" font-size="10.30" textLength="9.26" lengthAdjust="spacingAndGlyphs" fill="#000">m</text>
<line x1="837.50" y1="905.50" x2="837.50" y2="910.50" stroke="#000" stroke-width="1.1"/>
<text x="824.40" y="925.60" font-size="14.72" textLength="16.87" lengthAdjust="spacingAndGlyphs" fill="#000">58</text>
<text x="841.71" y="920.60" font-size="10.30" textLength="9.26" lengthAdjust="spacingAndGlyphs" fill="#000">m</text>
<line x1="938.50" y1="905.50" x2="938.50" y2="910.50" stroke="#000" stroke-width="1.1"/>
<text x="925.47" y="925.60" font-size="14.72" textLength="16.59" lengthAdjust="spacingAndGlyphs" fill="#000">57</text>
<text x="942.64" y="920.60" font-size="10.30" textLength="9.26" lengthAdjust="spacingAndGlyphs" fill="#000">m</text>
<line x1="1039.50" y1="905.50" x2="1039.50" y2="910.50" stroke="#000" stroke-width="1.1"/>
<text x="1026.40" y="925.60" font-size="14.72" textLength="16.96" lengthAdjust="spacingAndGlyphs" fill="#000">56</text>
<text x="1043.71" y="920.60" font-size="10.30" textLength="9.26" lengthAdjust="spacingAndGlyphs" fill="#000">m</text>
<text x="847.66" y="947.70" font-size="14.72" textLength="17.56" lengthAdjust="spacingAndGlyphs" fill="#000">RA</text>
<rect x="1095.50" y="486.50" width="21.00" height="419.00" fill="url(#cmap)" stroke="#000" stroke-width="1.1"/>
<line x1="1116.50" y1="486.50" x2="1121.50" y2="486.50" stroke="#000" stroke-width="1.1"/>
<text x="1126.81" y="491.70" font-size="14.72" textLength="38.88" lengthAdjust="spacingAndGlyphs" fill="#000">0.100</text>
<line x1="1116.50" y1="538.88" x2="1121.50" y2="538.88" stroke="#000" stroke-width="1.1"/>
<text x="1126.81" y="544.08" font-size="14.72" textLength="38.49" lengthAdjust="spacingAndGlyphs" fill="#000">0.075</text>
<line x1="1116.50" y1="591.25" x2="1121.50" y2="591.25" stroke="#000" stroke-width="1.1"/>
<text x="1126.81" y="596.45" font-size="14.72" textLength="38.75" lengthAdjust="spacingAndGlyphs" fill="#000">0.050</text>
<line x1="1116.50" y1="643.62" x2="1121.50" y2="643.62" stroke="#000" stroke-width="1.1"/>
<text x="1126.81" y="648.83" font-size="14.72" textLength="38.49" lengthAdjust="spacingAndGlyphs" fill="#000">0.025</text>
<line x1="1116.50" y1="696.00" x2="1121.50" y2="696.00" stroke="#000" stroke-width="1.1"/>
<text x="1126.81" y="701.20" font-size="14.72" textLength="38.75" lengthAdjust="spacingAndGlyphs" fill="#000">0.000</text>
<line x1="1116.50" y1="748.38" x2="1121.50" y2="748.38" stroke="#000" stroke-width="1.1"/>
<text x="1127.18" y="753.58" font-size="14.72" textLength="49.79" lengthAdjust="spacingAndGlyphs" fill="#000">−0.025</text>
<line x1="1116.50" y1="800.75" x2="1121.50" y2="800.75" stroke="#000" stroke-width="1.1"/>
<text x="1127.17" y="805.95" font-size="14.72" textLength="50.04" lengthAdjust="spacingAndGlyphs" fill="#000">−0.050</text>
<line x1="1116.50" y1="853.12" x2="1121.50" y2="853.12" stroke="#000" stroke-width="1.1"/>
<text x="1127.18" y="858.33" font-size="14.72" textLength="49.79" lengthAdjust="spacingAndGlyphs" fill="#000">−0.075</text>
<line x1="1116.50" y1="905.50" x2="1121.50" y2="905.50" stroke="#000" stroke-width="1.1"/>
<text x="1127.17" y="910.70" font-size="14.72" textLength="50.17" lengthAdjust="spacingAndGlyphs" fill="#000">−0.100</text>
<text transform="translate(1192.00,727.90) rotate(-90)" x="0" y="0" font-size="14.72" textLength="63.68" lengthAdjust="spacingAndGlyphs" fill="#000">Deep (Jy)</text>
<g clip-path="url(#cR1)">
<rect x="1738.04" y="-19.71" width="394.92" height="394.92" filter="url(#nR1)" transform="rotate(-25 1935.50 177.75)"/>
<ellipse cx="1928.00" cy="200.00" rx="70.00" ry="55.00" fill="url(#blobS)" opacity="0.080" transform="rotate(-20.0 1928.00 200.00)"/>
<ellipse cx="1930.80" cy="192.70" rx="16.80" ry="9.80" fill="url(#blobS)" opacity="1.000" transform="rotate(-8.0 1930.80 192.70)"/>
<ellipse cx="1922.10" cy="205.80" rx="21.00" ry="9.10" fill="url(#blobS)" opacity="1.000" transform="rotate(-5.0 1922.10 205.80)"/>
<ellipse cx="1941.00" cy="203.00" rx="8.40" ry="12.60" fill="url(#blobS)" opacity="0.711"/>
<ellipse cx="1945.40" cy="223.30" rx="22.40" ry="12.60" fill="url(#blobS)" opacity="0.622" transform="rotate(-10.0 1945.40 223.30)"/>
<ellipse cx="1932.30" cy="176.70" rx="15.40" ry="8.40" fill="url(#blobS)" opacity="0.444"/>
<ellipse cx="1970.20" cy="181.00" rx="14.00" ry="7.00" fill="url(#blobS)" opacity="0.422" transform="rotate(-20.0 1970.20 181.00)"/>
<ellipse cx="1898.80" cy="203.00" rx="11.20" ry="7.00" fill="url(#blobS)" opacity="0.311"/>
<ellipse cx="1863.80" cy="243.80" rx="8.40" ry="7.00" fill="url(#blobS)" opacity="0.333"/>
<ellipse cx="1989.20" cy="159.20" rx="9.80" ry="7.00" fill="url(#blobS)" opacity="0.311" transform="rotate(-20.0 1989.20 159.20)"/>
</g>
<polygon points="1917.43,174.37 1922.10,169.37 1924.17,169.37 1926.17,171.43 1930.57,171.43 1930.70,169.37 1934.83,165.37 1936.97,167.50 1936.90,171.43 1936.97,168.90 1941.37,165.37 1945.57,169.37 1945.57,176.10 1943.50,178.10 1943.50,180.17 1941.37,182.17 1934.77,182.83 1932.57,184.70 1928.50,184.70 1924.17,180.30 1923.97,178.10 1922.10,180.17 1917.43,176.10" fill="none" stroke="#0000ff" stroke-width="1.1" stroke-linejoin="miter"/>
<path d="M1974.23,122.70L1982.23,130.70M1974.23,130.70L1982.23,122.70" stroke="#ff0000" stroke-width="1.5" fill="none"/>
<path d="M1992.10,150.17L2000.10,158.17M1992.10,158.17L2000.10,150.17" stroke="#008000" stroke-width="1.5" fill="none"/>
<rect x="1795.50" y="38.50" width="280.00" height="280.00" fill="none" stroke="#000" stroke-width="1.1"/>
<line x1="1790.50" y1="62.97" x2="1795.50" y2="62.97" stroke="#000" stroke-width="1.1"/>
<text x="1738.00" y="67.57" font-size="14.72" textLength="45.17" lengthAdjust="spacingAndGlyphs" fill="#000">15°30'</text>
<line x1="1790.50" y1="133.17" x2="1795.50" y2="133.17" stroke="#000" stroke-width="1.1"/>
<text x="1762.52" y="137.77" font-size="14.72" textLength="20.65" lengthAdjust="spacingAndGlyphs" fill="#000">15'</text>
<line x1="1790.50" y1="202.50" x2="1795.50" y2="202.50" stroke="#000" stroke-width="1.1"/>
<text x="1762.62" y="207.10" font-size="14.72" textLength="20.54" lengthAdjust="spacingAndGlyphs" fill="#000">00'</text>
<line x1="1790.50" y1="271.77" x2="1795.50" y2="271.77" stroke="#000" stroke-width="1.1"/>
<text x="1738.00" y="276.37" font-size="14.72" textLength="45.17" lengthAdjust="spacingAndGlyphs" fill="#000">14°45'</text>
<line x1="2075.50" y1="72.50" x2="2080.50" y2="72.50" stroke="#000" stroke-width="1.1"/>
<line x1="2075.50" y1="142.23" x2="2080.50" y2="142.23" stroke="#000" stroke-width="1.1"/>
<line x1="2075.50" y1="211.63" x2="2080.50" y2="211.63" stroke="#000" stroke-width="1.1"/>
<line x1="2075.50" y1="281.03" x2="2080.50" y2="281.03" stroke="#000" stroke-width="1.1"/>
<line x1="1861.50" y1="33.50" x2="1861.50" y2="38.50" stroke="#000" stroke-width="1.1"/>
<line x1="1928.83" y1="33.50" x2="1928.83" y2="38.50" stroke="#000" stroke-width="1.1"/>
<line x1="1995.50" y1="33.50" x2="1995.50" y2="38.50" stroke="#000" stroke-width="1.1"/>
<line x1="2062.83" y1="33.50" x2="2062.83" y2="38.50" stroke="#000" stroke-width="1.1"/>
<line x1="1854.83" y1="318.50" x2="1854.83" y2="323.50" stroke="#000" stroke-width="1.1"/>
<line x1="1922.17" y1="318.50" x2="1922.17" y2="323.50" stroke="#000" stroke-width="1.1"/>
<line x1="1989.50" y1="318.50" x2="1989.50" y2="323.50" stroke="#000" stroke-width="1.1"/>
<line x1="2056.83" y1="318.50" x2="2056.83" y2="323.50" stroke="#000" stroke-width="1.1"/>
<text transform="translate(1728.90,193.79) rotate(-90)" x="0" y="0" font-size="14.72" textLength="26.25" lengthAdjust="spacingAndGlyphs" fill="#000">Dec</text>
<g clip-path="url(#cR2)">
<rect x="1738.04" y="274.29" width="394.92" height="394.92" filter="url(#nR2)" transform="rotate(-22 1935.50 471.75)"/>
<ellipse cx="1945.50" cy="520.00" rx="18.00" ry="12.00" fill="url(#blobK)" opacity="0.746" transform="rotate(-20.0 1945.50 520.00)"/>
<ellipse cx="1881.00" cy="390.70" rx="12.00" ry="9.60" fill="url(#blobK)" opacity="0.661"/>
<ellipse cx="1926.00" cy="579.70" rx="10.80" ry="9.60" fill="url(#blobK)" opacity="0.661"/>
<ellipse cx="1935.00" cy="490.00" rx="14.40" ry="9.60" fill="url(#blobK)" opacity="0.492"/>
</g>
<polygon points="1917.43,468.37 1922.10,463.37 1924.17,463.37 1926.17,465.43 1930.57,465.43 1930.70,463.37 1934.83,459.37 1936.97,461.50 1936.90,465.43 1936.97,462.90 1941.37,459.37 1945.57,463.37 1945.57,470.10 1943.50,472.10 1943.50,474.17 1941.37,476.17 1934.77,476.83 1932.57,478.70 1928.50,478.70 1924.17,474.30 1923.97,472.10 1922.10,474.17 1917.43,470.10" fill="none" stroke="#0000ff" stroke-width="1.1" stroke-linejoin="miter"/>
<path d="M1974.23,416.70L1982.23,424.70M1974.23,424.70L1982.23,416.70" stroke="#ff0000" stroke-width="1.5" fill="none"/>
<path d="M1992.10,444.17L2000.10,452.17M1992.10,452.17L2000.10,444.17" stroke="#008000" stroke-width="1.5" fill="none"/>
<rect x="1795.50" y="332.50" width="280.00" height="280.00" fill="none" stroke="#000" stroke-width="1.1"/>
<line x1="1790.50" y1="356.97" x2="1795.50" y2="356.97" stroke="#000" stroke-width="1.1"/>
<text x="1738.00" y="361.57" font-size="14.72" textLength="45.17" lengthAdjust="spacingAndGlyphs" fill="#000">15°30'</text>
<line x1="1790.50" y1="427.17" x2="1795.50" y2="427.17" stroke="#000" stroke-width="1.1"/>
<text x="1762.52" y="431.77" font-size="14.72" textLength="20.65" lengthAdjust="spacingAndGlyphs" fill="#000">15'</text>
<line x1="1790.50" y1="496.50" x2="1795.50" y2="496.50" stroke="#000" stroke-width="1.1"/>
<text x="1762.62" y="501.10" font-size="14.72" textLength="20.54" lengthAdjust="spacingAndGlyphs" fill="#000">00'</text>
<line x1="1790.50" y1="565.77" x2="1795.50" y2="565.77" stroke="#000" stroke-width="1.1"/>
<text x="1738.00" y="570.37" font-size="14.72" textLength="45.17" lengthAdjust="spacingAndGlyphs" fill="#000">14°45'</text>
<line x1="2075.50" y1="366.50" x2="2080.50" y2="366.50" stroke="#000" stroke-width="1.1"/>
<line x1="2075.50" y1="436.23" x2="2080.50" y2="436.23" stroke="#000" stroke-width="1.1"/>
<line x1="2075.50" y1="505.63" x2="2080.50" y2="505.63" stroke="#000" stroke-width="1.1"/>
<line x1="2075.50" y1="575.03" x2="2080.50" y2="575.03" stroke="#000" stroke-width="1.1"/>
<line x1="1861.50" y1="327.50" x2="1861.50" y2="332.50" stroke="#000" stroke-width="1.1"/>
<line x1="1928.83" y1="327.50" x2="1928.83" y2="332.50" stroke="#000" stroke-width="1.1"/>
<line x1="1995.50" y1="327.50" x2="1995.50" y2="332.50" stroke="#000" stroke-width="1.1"/>
<line x1="2062.83" y1="327.50" x2="2062.83" y2="332.50" stroke="#000" stroke-width="1.1"/>
<line x1="1854.83" y1="612.50" x2="1854.83" y2="617.50" stroke="#000" stroke-width="1.1"/>
<line x1="1922.17" y1="612.50" x2="1922.17" y2="617.50" stroke="#000" stroke-width="1.1"/>
<line x1="1989.50" y1="612.50" x2="1989.50" y2="617.50" stroke="#000" stroke-width="1.1"/>
<line x1="2056.83" y1="612.50" x2="2056.83" y2="617.50" stroke="#000" stroke-width="1.1"/>
<text transform="translate(1728.90,487.79) rotate(-90)" x="0" y="0" font-size="14.72" textLength="26.25" lengthAdjust="spacingAndGlyphs" fill="#000">Dec</text>
<g clip-path="url(#cR3)">
<rect x="1738.04" y="568.29" width="394.92" height="394.92" filter="url(#nR3)" transform="rotate(-25 1935.50 765.75)"/>
<ellipse cx="1930.00" cy="790.00" rx="70.00" ry="55.00" fill="url(#blobS)" opacity="0.075" transform="rotate(-20.0 1930.00 790.00)"/>
<ellipse cx="1930.80" cy="779.80" rx="19.60" ry="9.10" fill="url(#blobS)" opacity="1.000" transform="rotate(-5.0 1930.80 779.80)"/>
<ellipse cx="1920.60" cy="793.70" rx="18.20" ry="8.40" fill="url(#blobS)" opacity="1.000" transform="rotate(-5.0 1920.60 793.70)"/>
<ellipse cx="1945.40" cy="810.40" rx="22.40" ry="14.00" fill="url(#blobS)" opacity="0.537" transform="rotate(-10.0 1945.40 810.40)"/>
<ellipse cx="1933.80" cy="763.80" rx="14.00" ry="7.00" fill="url(#blobS)" opacity="0.537"/>
<ellipse cx="1967.30" cy="769.60" rx="11.20" ry="5.60" fill="url(#blobS)" opacity="0.317" transform="rotate(-20.0 1967.30 769.60)"/>
</g>
<polygon points="1917.43,762.37 1922.10,757.37 1924.17,757.37 1926.17,759.43 1930.57,759.43 1930.70,757.37 1934.83,753.37 1936.97,755.50 1936.90,759.43 1936.97,756.90 1941.37,753.37 1945.57,757.37 1945.57,764.10 1943.50,766.10 1943.50,768.17 1941.37,770.17 1934.77,770.83 1932.57,772.70 1928.50,772.70 1924.17,768.30 1923.97,766.10 1922.10,768.17 1917.43,764.10" fill="none" stroke="#0000ff" stroke-width="1.1" stroke-linejoin="miter"/>
<path d="M1974.23,710.70L1982.23,718.70M1974.23,718.70L1982.23,710.70" stroke="#ff0000" stroke-width="1.5" fill="none"/>
<path d="M1992.10,738.17L2000.10,746.17M1992.10,746.17L2000.10,738.17" stroke="#008000" stroke-width="1.5" fill="none"/>
<rect x="1795.50" y="626.50" width="280.00" height="279.00" fill="none" stroke="#000" stroke-width="1.1"/>
<line x1="1790.50" y1="650.97" x2="1795.50" y2="650.97" stroke="#000" stroke-width="1.1"/>
<text x="1738.00" y="655.57" font-size="14.72" textLength="45.17" lengthAdjust="spacingAndGlyphs" fill="#000">15°30'</text>
<line x1="1790.50" y1="721.17" x2="1795.50" y2="721.17" stroke="#000" stroke-width="1.1"/>
<text x="1762.52" y="725.77" font-size="14.72" textLength="20.65" lengthAdjust="spacingAndGlyphs" fill="#000">15'</text>
<line x1="1790.50" y1="790.50" x2="1795.50" y2="790.50" stroke="#000" stroke-width="1.1"/>
<text x="1762.62" y="795.10" font-size="14.72" textLength="20.54" lengthAdjust="spacingAndGlyphs" fill="#000">00'</text>
<line x1="1790.50" y1="859.77" x2="1795.50" y2="859.77" stroke="#000" stroke-width="1.1"/>
<text x="1738.00" y="864.37" font-size="14.72" textLength="45.17" lengthAdjust="spacingAndGlyphs" fill="#000">14°45'</text>
<line x1="2075.50" y1="660.50" x2="2080.50" y2="660.50" stroke="#000" stroke-width="1.1"/>
<line x1="2075.50" y1="730.23" x2="2080.50" y2="730.23" stroke="#000" stroke-width="1.1"/>
<line x1="2075.50" y1="799.63" x2="2080.50" y2="799.63" stroke="#000" stroke-width="1.1"/>
<line x1="2075.50" y1="869.03" x2="2080.50" y2="869.03" stroke="#000" stroke-width="1.1"/>
<line x1="1861.50" y1="621.50" x2="1861.50" y2="626.50" stroke="#000" stroke-width="1.1"/>
<line x1="1928.83" y1="621.50" x2="1928.83" y2="626.50" stroke="#000" stroke-width="1.1"/>
<line x1="1995.50" y1="621.50" x2="1995.50" y2="626.50" stroke="#000" stroke-width="1.1"/>
<line x1="2062.83" y1="621.50" x2="2062.83" y2="626.50" stroke="#000" stroke-width="1.1"/>
<line x1="1854.83" y1="905.50" x2="1854.83" y2="910.50" stroke="#000" stroke-width="1.1"/>
<text x="1829.62" y="925.60" font-size="14.72" textLength="17.15" lengthAdjust="spacingAndGlyphs" fill="#000">19</text>
<text x="1847.16" y="920.60" font-size="10.30" textLength="5.99" lengthAdjust="spacingAndGlyphs" fill="#000">h</text>
<text x="1853.73" y="925.60" font-size="14.72" textLength="16.91" lengthAdjust="spacingAndGlyphs" fill="#000">59</text>
<text x="1871.04" y="920.60" font-size="10.30" textLength="9.26" lengthAdjust="spacingAndGlyphs" fill="#000">m</text>
<line x1="1922.17" y1="905.50" x2="1922.17" y2="910.50" stroke="#000" stroke-width="1.1"/>
<text x="1909.07" y="925.60" font-size="14.72" textLength="16.87" lengthAdjust="spacingAndGlyphs" fill="#000">58</text>
<text x="1926.37" y="920.60" font-size="10.30" textLength="9.26" lengthAdjust="spacingAndGlyphs" fill="#000">m</text>
<line x1="1989.50" y1="905.50" x2="1989.50" y2="910.50" stroke="#000" stroke-width="1.1"/>
<text x="1976.47" y="925.60" font-size="14.72" textLength="16.59" lengthAdjust="spacingAndGlyphs" fill="#000">57</text>
<text x="1993.64" y="920.60" font-size="10.30" textLength="9.26" lengthAdjust="spacingAndGlyphs" fill="#000">m</text>
<line x1="2056.83" y1="905.50" x2="2056.83" y2="910.50" stroke="#000" stroke-width="1.1"/>
<text x="2043.73" y="925.60" font-size="14.72" textLength="16.96" lengthAdjust="spacingAndGlyphs" fill="#000">56</text>
<text x="2061.04" y="920.60" font-size="10.30" textLength="9.26" lengthAdjust="spacingAndGlyphs" fill="#000">m</text>
<text transform="translate(1728.90,781.29) rotate(-90)" x="0" y="0" font-size="14.72" textLength="26.25" lengthAdjust="spacingAndGlyphs" fill="#000">Dec</text>
<text x="1925.66" y="947.70" font-size="14.72" textLength="17.56" lengthAdjust="spacingAndGlyphs" fill="#000">RA</text>
<rect x="2096.50" y="38.50" width="14.00" height="280.00" fill="url(#cmap)" stroke="#000" stroke-width="1.1"/>
<line x1="2110.50" y1="49.40" x2="2115.50" y2="49.40" stroke="#000" stroke-width="1.1"/>
<text x="2120.81" y="54.60" font-size="14.72" textLength="38.49" lengthAdjust="spacingAndGlyphs" fill="#000">0.225</text>
<line x1="2110.50" y1="85.11" x2="2115.50" y2="85.11" stroke="#000" stroke-width="1.1"/>
<text x="2120.81" y="90.31" font-size="14.72" textLength="38.75" lengthAdjust="spacingAndGlyphs" fill="#000">0.200</text>
<line x1="2110.50" y1="120.82" x2="2115.50" y2="120.82" stroke="#000" stroke-width="1.1"/>
<text x="2120.81" y="126.02" font-size="14.72" textLength="38.62" lengthAdjust="spacingAndGlyphs" fill="#000">0.175</text>
<line x1="2110.50" y1="156.53" x2="2115.50" y2="156.53" stroke="#000" stroke-width="1.1"/>
<text x="2120.81" y="161.73" font-size="14.72" textLength="38.88" lengthAdjust="spacingAndGlyphs" fill="#000">0.150</text>
<line x1="2110.50" y1="192.24" x2="2115.50" y2="192.24" stroke="#000" stroke-width="1.1"/>
<text x="2120.81" y="197.44" font-size="14.72" textLength="38.62" lengthAdjust="spacingAndGlyphs" fill="#000">0.125</text>
<line x1="2110.50" y1="227.95" x2="2115.50" y2="227.95" stroke="#000" stroke-width="1.1"/>
<text x="2120.81" y="233.15" font-size="14.72" textLength="38.88" lengthAdjust="spacingAndGlyphs" fill="#000">0.100</text>
<line x1="2110.50" y1="263.66" x2="2115.50" y2="263.66" stroke="#000" stroke-width="1.1"/>
<text x="2120.81" y="268.86" font-size="14.72" textLength="38.49" lengthAdjust="spacingAndGlyphs" fill="#000">0.075</text>
<line x1="2110.50" y1="299.37" x2="2115.50" y2="299.37" stroke="#000" stroke-width="1.1"/>
<text x="2120.81" y="304.57" font-size="14.72" textLength="38.75" lengthAdjust="spacingAndGlyphs" fill="#000">0.050</text>
<text transform="translate(2174.70,251.99) rotate(-90)" x="0" y="0" font-size="14.72" font-weight="bold" textLength="146.67" lengthAdjust="spacingAndGlyphs" fill="#000">rms = 0.123 (1.12)</text>
<rect x="2096.50" y="332.50" width="14.00" height="280.00" fill="url(#cmap)" stroke="#000" stroke-width="1.1"/>
<line x1="2110.50" y1="337.60" x2="2115.50" y2="337.60" stroke="#000" stroke-width="1.1"/>
<text x="2120.96" y="342.80" font-size="14.72" textLength="21.08" lengthAdjust="spacingAndGlyphs" fill="#000">5.0</text>
<line x1="2110.50" y1="370.05" x2="2115.50" y2="370.05" stroke="#000" stroke-width="1.1"/>
<text x="2120.83" y="375.25" font-size="14.72" textLength="20.96" lengthAdjust="spacingAndGlyphs" fill="#000">4.5</text>
<line x1="2110.50" y1="402.50" x2="2115.50" y2="402.50" stroke="#000" stroke-width="1.1"/>
<text x="2120.83" y="407.70" font-size="14.72" textLength="21.22" lengthAdjust="spacingAndGlyphs" fill="#000">4.0</text>
<line x1="2110.50" y1="434.95" x2="2115.50" y2="434.95" stroke="#000" stroke-width="1.1"/>
<text x="2120.99" y="440.15" font-size="14.72" textLength="20.80" lengthAdjust="spacingAndGlyphs" fill="#000">3.5</text>
<line x1="2110.50" y1="467.40" x2="2115.50" y2="467.40" stroke="#000" stroke-width="1.1"/>
<text x="2120.98" y="472.60" font-size="14.72" textLength="21.06" lengthAdjust="spacingAndGlyphs" fill="#000">3.0</text>
<line x1="2110.50" y1="499.85" x2="2115.50" y2="499.85" stroke="#000" stroke-width="1.1"/>
<text x="2120.76" y="505.05" font-size="14.72" textLength="21.04" lengthAdjust="spacingAndGlyphs" fill="#000">2.5</text>
<line x1="2110.50" y1="532.30" x2="2115.50" y2="532.30" stroke="#000" stroke-width="1.1"/>
<text x="2120.75" y="537.50" font-size="14.72" textLength="21.30" lengthAdjust="spacingAndGlyphs" fill="#000">2.0</text>
<line x1="2110.50" y1="564.75" x2="2115.50" y2="564.75" stroke="#000" stroke-width="1.1"/>
<text x="2120.87" y="569.95" font-size="14.72" textLength="21.05" lengthAdjust="spacingAndGlyphs" fill="#000">1.5</text>
<line x1="2110.50" y1="597.20" x2="2115.50" y2="597.20" stroke="#000" stroke-width="1.1"/>
<text x="2120.86" y="602.40" font-size="14.72" textLength="21.32" lengthAdjust="spacingAndGlyphs" fill="#000">1.0</text>
<text transform="translate(2157.50,543.13) rotate(-90)" x="0" y="0" font-size="14.72" textLength="141.36" lengthAdjust="spacingAndGlyphs" fill="#000">spike = 3.91 (0.522)</text>
<rect x="2097.1" y="610.4" width="12.8" height="1.5" fill="#fff"/>
<rect x="2096.50" y="626.50" width="14.00" height="279.00" fill="url(#cmap)" stroke="#000" stroke-width="1.1"/>
<line x1="2110.50" y1="640.50" x2="2115.50" y2="640.50" stroke="#000" stroke-width="1.1"/>
<text x="2120.81" y="645.70" font-size="14.72" textLength="21.41" lengthAdjust="spacingAndGlyphs" fill="#000">0.8</text>
<line x1="2110.50" y1="676.61" x2="2115.50" y2="676.61" stroke="#000" stroke-width="1.1"/>
<text x="2120.82" y="681.81" font-size="14.72" textLength="21.13" lengthAdjust="spacingAndGlyphs" fill="#000">0.7</text>
<line x1="2110.50" y1="712.72" x2="2115.50" y2="712.72" stroke="#000" stroke-width="1.1"/>
<text x="2120.81" y="717.92" font-size="14.72" textLength="21.49" lengthAdjust="spacingAndGlyphs" fill="#000">0.6</text>
<line x1="2110.50" y1="748.83" x2="2115.50" y2="748.83" stroke="#000" stroke-width="1.1"/>
<text x="2120.83" y="754.03" font-size="14.72" textLength="20.97" lengthAdjust="spacingAndGlyphs" fill="#000">0.5</text>
<line x1="2110.50" y1="784.94" x2="2115.50" y2="784.94" stroke="#000" stroke-width="1.1"/>
<text x="2120.82" y="790.14" font-size="14.72" textLength="21.22" lengthAdjust="spacingAndGlyphs" fill="#000">0.4</text>
<line x1="2110.50" y1="821.05" x2="2115.50" y2="821.05" stroke="#000" stroke-width="1.1"/>
<text x="2120.82" y="826.25" font-size="14.72" textLength="21.11" lengthAdjust="spacingAndGlyphs" fill="#000">0.3</text>
<line x1="2110.50" y1="857.16" x2="2115.50" y2="857.16" stroke="#000" stroke-width="1.1"/>
<text x="2120.83" y="862.36" font-size="14.72" textLength="20.91" lengthAdjust="spacingAndGlyphs" fill="#000">0.2</text>
<line x1="2110.50" y1="893.27" x2="2115.50" y2="893.27" stroke="#000" stroke-width="1.1"/>
<text x="2120.82" y="898.47" font-size="14.72" textLength="21.14" lengthAdjust="spacingAndGlyphs" fill="#000">0.1</text>
<text transform="translate(2158.00,836.97) rotate(-90)" x="0" y="0" font-size="14.72" font-weight="bold" textLength="141.59" lengthAdjust="spacingAndGlyphs" fill="#000">tcg = 0.469 (1.36)</text>
<line x1="647.5" y1="250.8" x2="1697.5" y2="250.8" stroke="#000" stroke-width="2.08" stroke-dasharray="2.08,3.43"/>
<line x1="647.5" y1="281.0" x2="1697.5" y2="281.0" stroke="#000" stroke-width="2.08" stroke-dasharray="2.08,3.43"/>
<line x1="647.5" y1="311.0" x2="1697.5" y2="311.0" stroke="#000" stroke-width="2.08" stroke-dasharray="2.08,3.43"/>
<polyline points="694.40,320.90 708.23,307.30 722.06,293.80 735.90,329.00 749.73,290.50 763.56,297.30 777.39,227.40 791.22,280.20 805.06,315.40 818.89,259.30 832.72,309.50 846.55,292.40 860.38,325.00 874.22,306.00 888.05,264.40 901.88,256.60 915.71,252.50 929.54,273.75 943.38,294.70 957.21,265.60 971.04,270.30 984.87,222.80 998.70,269.00 1012.54,236.25 1026.37,242.50 1040.20,262.50 1054.03,224.40 1067.86,241.00 1081.70,238.40 1095.53,312.50 1109.36,247.80 1123.19,262.50 1137.02,297.80 1150.86,254.00 1164.69,295.60 1178.52,268.10 1192.35,301.90 1206.18,255.00 1220.02,290.40 1233.85,294.50 1247.68,304.80 1261.51,277.70 1275.34,332.20 1289.18,312.70 1303.01,278.50 1316.84,305.40 1330.67,234.50 1344.50,262.50 1358.34,257.30 1372.17,260.20 1386.00,224.30 1399.83,260.20 1413.66,320.50 1427.50,261.00 1441.33,250.60 1455.16,255.20 1468.99,252.90 1482.82,250.80 1496.66,266.00 1510.49,273.90 1524.32,266.00 1538.15,227.20 1551.98,276.80 1565.82,265.00 1579.65,265.20 1593.48,298.80 1607.31,290.70 1621.14,312.00 1634.98,333.80 1648.81,329.00" fill="none" stroke="#ff0000" stroke-width="2.08" stroke-opacity="0.5" stroke-linejoin="round" stroke-linecap="butt"/>
<polyline points="694.40,250.40 708.23,235.50 722.06,240.90 735.90,222.00 749.73,270.20 763.56,248.50 777.39,261.20 791.22,236.30 805.06,218.70 818.89,216.50 832.72,259.30 846.55,244.40 860.38,249.20 874.22,274.30 888.05,241.00 901.88,256.25 915.71,179.00 929.54,265.60 943.38,250.00 957.21,261.00 971.04,266.60 984.87,275.00 998.70,270.60 1012.54,252.50 1026.37,311.25 1040.20,301.90 1054.03,265.00 1067.86,298.75 1081.70,265.00 1095.53,235.30 1109.36,253.40 1123.19,265.60 1137.02,270.30 1150.86,257.80 1164.69,233.75 1178.52,222.20 1192.35,251.00 1206.18,257.20 1220.02,259.20 1233.85,251.00 1247.68,265.10 1261.51,255.20 1275.34,276.80 1289.18,271.00 1303.01,285.80 1316.84,285.50 1330.67,304.80 1344.50,310.60 1358.34,315.60 1372.17,276.80 1386.00,286.40 1399.83,310.30 1413.66,292.20 1427.50,270.40 1441.33,280.60 1455.16,290.20 1468.99,304.80 1482.82,285.50 1496.66,271.30 1510.49,278.50 1524.32,266.00 1538.15,222.30 1551.98,250.60 1565.82,240.80 1579.65,215.60 1593.48,221.80 1607.31,198.60 1621.14,195.50 1634.98,201.00 1648.81,252.80" fill="none" stroke="#008000" stroke-width="2.08" stroke-opacity="0.5" stroke-linejoin="round" stroke-linecap="butt"/>
<polyline points="694.40,207.60 708.23,192.10 722.06,207.60 735.90,229.50 749.73,198.40 763.56,209.80 777.39,140.10 791.22,192.70 805.06,184.60 818.89,180.50 832.72,186.20 846.55,211.10 860.38,165.00 874.22,184.50 888.05,207.80 901.88,171.30 915.71,190.00 929.54,128.40 943.38,86.90 957.21,144.00 971.04,140.60 984.87,147.80 998.70,166.60 1012.54,151.00 1026.37,145.30 1040.20,211.00 1054.03,184.40 1067.86,211.25 1081.70,220.60 1095.53,226.00 1109.36,210.30 1123.19,192.20 1137.02,255.00 1150.86,245.30 1164.69,283.10 1178.52,286.90 1192.35,281.25 1206.18,308.10 1220.02,302.80 1233.85,313.40 1247.68,378.30 1261.51,312.70 1275.34,354.30 1289.18,376.80 1303.01,334.50 1316.84,398.00 1330.67,381.20 1344.50,354.00 1358.34,334.50 1372.17,356.40 1386.00,344.70 1399.83,356.40 1413.66,406.80 1427.50,357.80 1441.33,316.40 1455.16,261.00 1468.99,332.50 1482.82,299.00 1496.66,299.00 1510.49,359.30 1524.32,298.00 1538.15,302.40 1551.98,301.90 1565.82,262.50 1579.65,295.70 1593.48,324.10 1607.31,297.00 1621.14,289.00 1634.98,275.80 1648.81,296.20" fill="none" stroke="#0000ff" stroke-width="2.08" stroke-opacity="1.0" stroke-linejoin="round" stroke-linecap="butt"/>
<path d="M694.40,178.60V236.60M708.23,163.10V221.10M722.06,178.60V236.60M735.90,200.50V258.50M749.73,169.40V227.40M763.56,180.80V238.80M777.39,111.10V169.10M791.22,163.70V221.70M805.06,155.60V213.60M818.89,151.50V209.50M832.72,157.20V215.20M846.55,182.10V240.10M860.38,136.00V194.00M874.22,155.50V213.50M888.05,178.80V236.80M901.88,142.30V200.30M915.71,161.00V219.00M929.54,99.40V157.40M943.38,57.90V115.90M957.21,115.00V173.00M971.04,111.60V169.60M984.87,118.80V176.80M998.70,137.60V195.60M1012.54,122.00V180.00M1026.37,116.30V174.30M1040.20,182.00V240.00M1054.03,155.40V213.40M1067.86,182.25V240.25M1081.70,191.60V249.60M1095.53,197.00V255.00M1109.36,181.30V239.30M1123.19,163.20V221.20M1137.02,226.00V284.00M1150.86,216.30V274.30M1164.69,254.10V312.10M1178.52,257.90V315.90M1192.35,252.25V310.25M1206.18,279.10V337.10M1220.02,273.80V331.80M1233.85,284.40V342.40M1247.68,349.30V407.30M1261.51,283.70V341.70M1275.34,325.30V383.30M1289.18,347.80V405.80M1303.01,305.50V363.50M1316.84,369.00V427.00M1330.67,352.20V410.20M1344.50,325.00V383.00M1358.34,305.50V363.50M1372.17,327.40V385.40M1386.00,315.70V373.70M1399.83,327.40V385.40M1413.66,377.80V435.80M1427.50,328.80V386.80M1441.33,287.40V345.40M1455.16,232.00V290.00M1468.99,303.50V361.50M1482.82,270.00V328.00M1496.66,270.00V328.00M1510.49,330.30V388.30M1524.32,269.00V327.00M1538.15,273.40V331.40M1551.98,272.90V330.90M1565.82,233.50V291.50M1579.65,266.70V324.70M1593.48,295.10V353.10M1607.31,268.00V326.00M1621.14,260.00V318.00M1634.98,246.80V304.80M1648.81,267.20V325.20" stroke="#0000ff" stroke-width="2.08" fill="none"/>
<rect x="647.5" y="38.2" width="1050.0" height="420.3" fill="none" stroke="#000" stroke-width="1.1"/>
<line x1="642.50" y1="102.50" x2="647.50" y2="102.50" stroke="#000" stroke-width="1.1"/>
<line x1="642.50" y1="191.60" x2="647.50" y2="191.60" stroke="#000" stroke-width="1.1"/>
<line x1="642.50" y1="281.00" x2="647.50" y2="281.00" stroke="#000" stroke-width="1.1"/>
<line x1="642.50" y1="371.00" x2="647.50" y2="371.00" stroke="#000" stroke-width="1.1"/>
<line x1="694.40" y1="458.50" x2="694.40" y2="463.50" stroke="#000" stroke-width="1.1"/>
<text x="690.38" y="479.20" font-size="14.72" textLength="8.04" lengthAdjust="spacingAndGlyphs" fill="#000">0</text>
<line x1="867.30" y1="458.50" x2="867.30" y2="463.50" stroke="#000" stroke-width="1.1"/>
<text x="859.02" y="479.20" font-size="14.72" textLength="16.69" lengthAdjust="spacingAndGlyphs" fill="#000">50</text>
<line x1="1040.20" y1="458.50" x2="1040.20" y2="463.50" stroke="#000" stroke-width="1.1"/>
<text x="1027.37" y="479.20" font-size="14.72" textLength="25.70" lengthAdjust="spacingAndGlyphs" fill="#000">100</text>
<line x1="1213.10" y1="458.50" x2="1213.10" y2="463.50" stroke="#000" stroke-width="1.1"/>
<text x="1200.27" y="479.20" font-size="14.72" textLength="25.70" lengthAdjust="spacingAndGlyphs" fill="#000">150</text>
<line x1="1386.00" y1="458.50" x2="1386.00" y2="463.50" stroke="#000" stroke-width="1.1"/>
<text x="1373.12" y="479.20" font-size="14.72" textLength="25.69" lengthAdjust="spacingAndGlyphs" fill="#000">200</text>
<line x1="1558.90" y1="458.50" x2="1558.90" y2="463.50" stroke="#000" stroke-width="1.1"/>
<text x="1546.02" y="479.20" font-size="14.72" textLength="25.69" lengthAdjust="spacingAndGlyphs" fill="#000">250</text>
<text x="1144.76" y="498.90" font-size="14.72" textLength="54.37" lengthAdjust="spacingAndGlyphs" fill="#000">Time (s)</text>
<rect x="1568.5" y="44.6" width="121.9" height="66.7" rx="2.8" ry="2.8" fill="#fff" fill-opacity="0.8" stroke="#cccccc" stroke-width="1.1"/>
<line x1="1573" y1="55.8" x2="1603" y2="55.8" stroke="#ff0000" stroke-opacity="0.5" stroke-width="2.08"/>
<line x1="1573" y1="76.9" x2="1603" y2="76.9" stroke="#008000" stroke-opacity="0.5" stroke-width="2.08"/>
<line x1="1573" y1="97.9" x2="1603" y2="97.9" stroke="#0000ff" stroke-width="2.08"/>
<line x1="1588" y1="91.2" x2="1588" y2="104.7" stroke="#0000ff" stroke-width="2.08"/>
<text x="1613.12" y="61.60" font-size="14.72" textLength="58.96" lengthAdjust="spacingAndGlyphs" fill="#000">Known 1</text>
<text x="1613.12" y="82.70" font-size="14.72" textLength="58.74" lengthAdjust="spacingAndGlyphs" fill="#000">Known 2</text>
<text x="1612.99" y="103.60" font-size="14.72" textLength="71.35" lengthAdjust="spacingAndGlyphs" fill="#000">Candidate</text>
<path d="M1282.00,906.0L1282.00,882.50L1301.74,882.50L1301.74,847.50L1321.48,847.50L1321.48,806.50L1341.22,806.50L1341.22,768.50L1360.96,768.50L1360.96,726.00L1380.70,726.00L1380.70,672.40L1400.44,672.40L1400.44,595.00L1420.18,595.00L1420.18,535.00L1439.92,535.00L1439.92,505.10L1459.66,505.10L1459.66,506.00L1479.40,506.00L1479.40,536.10L1499.14,536.10L1499.14,594.10L1518.88,594.10L1518.88,666.00L1538.62,666.00L1538.62,719.00L1558.36,719.00L1558.36,749.00L1578.10,749.00L1578.10,763.00L1597.84,763.00L1597.84,786.00L1617.58,786.00L1617.58,809.00L1637.32,809.00L1637.32,834.00L1657.06,834.00L1657.06,886.00L1676.80,886.00L1676.80,906.0Z" fill="#8080ff"/>
<line x1="1575.50" y1="486.50" x2="1575.50" y2="906.00" stroke="#ff0000" stroke-width="2.08"/>
<rect x="1263.5" y="486.5" width="434.0" height="419.5" fill="none" stroke="#000" stroke-width="1.1"/>
<line x1="1300.00" y1="906.00" x2="1300.00" y2="911.00" stroke="#000" stroke-width="1.1"/>
<text x="1283.84" y="926.60" font-size="14.72" textLength="32.83" lengthAdjust="spacingAndGlyphs" fill="#000">−0.6</text>
<line x1="1353.60" y1="906.00" x2="1353.60" y2="911.00" stroke="#000" stroke-width="1.1"/>
<text x="1337.51" y="926.60" font-size="14.72" textLength="32.54" lengthAdjust="spacingAndGlyphs" fill="#000">−0.4</text>
<line x1="1407.20" y1="906.00" x2="1407.20" y2="911.00" stroke="#000" stroke-width="1.1"/>
<text x="1391.12" y="926.60" font-size="14.72" textLength="32.27" lengthAdjust="spacingAndGlyphs" fill="#000">−0.2</text>
<line x1="1460.80" y1="906.00" x2="1460.80" y2="911.00" stroke="#000" stroke-width="1.1"/>
<text x="1450.18" y="926.60" font-size="14.72" textLength="21.23" lengthAdjust="spacingAndGlyphs" fill="#000">0.0</text>
<line x1="1514.40" y1="906.00" x2="1514.40" y2="911.00" stroke="#000" stroke-width="1.1"/>
<text x="1503.79" y="926.60" font-size="14.72" textLength="20.91" lengthAdjust="spacingAndGlyphs" fill="#000">0.2</text>
<line x1="1568.00" y1="906.00" x2="1568.00" y2="911.00" stroke="#000" stroke-width="1.1"/>
<text x="1557.38" y="926.60" font-size="14.72" textLength="21.22" lengthAdjust="spacingAndGlyphs" fill="#000">0.4</text>
<line x1="1621.60" y1="906.00" x2="1621.60" y2="911.00" stroke="#000" stroke-width="1.1"/>
<text x="1610.91" y="926.60" font-size="14.72" textLength="21.49" lengthAdjust="spacingAndGlyphs" fill="#000">0.6</text>
<line x1="1675.20" y1="906.00" x2="1675.20" y2="911.00" stroke="#000" stroke-width="1.1"/>
<text x="1664.51" y="926.60" font-size="14.72" textLength="21.41" lengthAdjust="spacingAndGlyphs" fill="#000">0.8</text>
<text x="1450.90" y="945.80" font-size="14.72" textLength="56.21" lengthAdjust="spacingAndGlyphs" fill="#000">Flux (Jy)</text>
<line x1="1258.50" y1="892.48" x2="1263.50" y2="892.48" stroke="#000" stroke-width="1.1"/>
<text x="1238.79" y="893.88" font-size="10.30" textLength="13.61" lengthAdjust="spacingAndGlyphs" fill="#000">−4</text>
<text x="1220.49" y="898.88" font-size="14.72" textLength="16.93" lengthAdjust="spacingAndGlyphs" fill="#000">10</text>
<line x1="1258.50" y1="809.21" x2="1263.50" y2="809.21" stroke="#000" stroke-width="1.1"/>
<text x="1238.79" y="810.61" font-size="10.30" textLength="13.55" lengthAdjust="spacingAndGlyphs" fill="#000">−3</text>
<text x="1220.49" y="815.61" font-size="14.72" textLength="16.93" lengthAdjust="spacingAndGlyphs" fill="#000">10</text>
<line x1="1258.50" y1="725.94" x2="1263.50" y2="725.94" stroke="#000" stroke-width="1.1"/>
<text x="1238.67" y="727.34" font-size="10.30" textLength="13.56" lengthAdjust="spacingAndGlyphs" fill="#000">−2</text>
<text x="1220.37" y="732.34" font-size="14.72" textLength="16.93" lengthAdjust="spacingAndGlyphs" fill="#000">10</text>
<line x1="1258.50" y1="642.67" x2="1263.50" y2="642.67" stroke="#000" stroke-width="1.1"/>
<text x="1238.80" y="644.07" font-size="10.30" textLength="13.48" lengthAdjust="spacingAndGlyphs" fill="#000">−1</text>
<text x="1220.49" y="649.07" font-size="14.72" textLength="16.93" lengthAdjust="spacingAndGlyphs" fill="#000">10</text>
<line x1="1258.50" y1="559.40" x2="1263.50" y2="559.40" stroke="#000" stroke-width="1.1"/>
<text x="1246.72" y="560.80" font-size="10.30" textLength="5.63" lengthAdjust="spacingAndGlyphs" fill="#000">0</text>
<text x="1228.62" y="565.80" font-size="14.72" textLength="16.93" lengthAdjust="spacingAndGlyphs" fill="#000">10</text>
<line x1="1260.50" y1="905.38" x2="1263.50" y2="905.38" stroke="#000" stroke-width="0.8"/>
<line x1="1260.50" y1="900.55" x2="1263.50" y2="900.55" stroke="#000" stroke-width="0.8"/>
<line x1="1260.50" y1="896.29" x2="1263.50" y2="896.29" stroke="#000" stroke-width="0.8"/>
<line x1="1260.50" y1="867.41" x2="1263.50" y2="867.41" stroke="#000" stroke-width="0.8"/>
<line x1="1260.50" y1="852.75" x2="1263.50" y2="852.75" stroke="#000" stroke-width="0.8"/>
<line x1="1260.50" y1="842.35" x2="1263.50" y2="842.35" stroke="#000" stroke-width="0.8"/>
<line x1="1260.50" y1="834.28" x2="1263.50" y2="834.28" stroke="#000" stroke-width="0.8"/>
<line x1="1260.50" y1="827.68" x2="1263.50" y2="827.68" stroke="#000" stroke-width="0.8"/>
<line x1="1260.50" y1="822.11" x2="1263.50" y2="822.11" stroke="#000" stroke-width="0.8"/>
<line x1="1260.50" y1="817.28" x2="1263.50" y2="817.28" stroke="#000" stroke-width="0.8"/>
<line x1="1260.50" y1="813.02" x2="1263.50" y2="813.02" stroke="#000" stroke-width="0.8"/>
<line x1="1260.50" y1="784.14" x2="1263.50" y2="784.14" stroke="#000" stroke-width="0.8"/>
<line x1="1260.50" y1="769.48" x2="1263.50" y2="769.48" stroke="#000" stroke-width="0.8"/>
<line x1="1260.50" y1="759.08" x2="1263.50" y2="759.08" stroke="#000" stroke-width="0.8"/>
<line x1="1260.50" y1="751.01" x2="1263.50" y2="751.01" stroke="#000" stroke-width="0.8"/>
<line x1="1260.50" y1="744.41" x2="1263.50" y2="744.41" stroke="#000" stroke-width="0.8"/>
<line x1="1260.50" y1="738.84" x2="1263.50" y2="738.84" stroke="#000" stroke-width="0.8"/>
<line x1="1260.50" y1="734.01" x2="1263.50" y2="734.01" stroke="#000" stroke-width="0.8"/>
<line x1="1260.50" y1="729.75" x2="1263.50" y2="729.75" stroke="#000" stroke-width="0.8"/>
<line x1="1260.50" y1="700.87" x2="1263.50" y2="700.87" stroke="#000" stroke-width="0.8"/>
<line x1="1260.50" y1="686.21" x2="1263.50" y2="686.21" stroke="#000" stroke-width="0.8"/>
<line x1="1260.50" y1="675.81" x2="1263.50" y2="675.81" stroke="#000" stroke-width="0.8"/>
<line x1="1260.50" y1="667.74" x2="1263.50" y2="667.74" stroke="#000" stroke-width="0.8"/>
<line x1="1260.50" y1="661.14" x2="1263.50" y2="661.14" stroke="#000" stroke-width="0.8"/>
<line x1="1260.50" y1="655.57" x2="1263.50" y2="655.57" stroke="#000" stroke-width="0.8"/>
<line x1="1260.50" y1="650.74" x2="1263.50" y2="650.74" stroke="#000" stroke-width="0.8"/>
<line x1="1260.50" y1="646.48" x2="1263.50" y2="646.48" stroke="#000" stroke-width="0.8"/>
<line x1="1260.50" y1="617.60" x2="1263.50" y2="617.60" stroke="#000" stroke-width="0.8"/>
<line x1="1260.50" y1="602.94" x2="1263.50" y2="602.94" stroke="#000" stroke-width="0.8"/>
<line x1="1260.50" y1="592.54" x2="1263.50" y2="592.54" stroke="#000" stroke-width="0.8"/>
<line x1="1260.50" y1="584.47" x2="1263.50" y2="584.47" stroke="#000" stroke-width="0.8"/>
<line x1="1260.50" y1="577.87" x2="1263.50" y2="577.87" stroke="#000" stroke-width="0.8"/>
<line x1="1260.50" y1="572.30" x2="1263.50" y2="572.30" stroke="#000" stroke-width="0.8"/>
<line x1="1260.50" y1="567.47" x2="1263.50" y2="567.47" stroke="#000" stroke-width="0.8"/>
<line x1="1260.50" y1="563.21" x2="1263.50" y2="563.21" stroke="#000" stroke-width="0.8"/>
<line x1="1260.50" y1="534.33" x2="1263.50" y2="534.33" stroke="#000" stroke-width="0.8"/>
<line x1="1260.50" y1="519.67" x2="1263.50" y2="519.67" stroke="#000" stroke-width="0.8"/>
<line x1="1260.50" y1="509.27" x2="1263.50" y2="509.27" stroke="#000" stroke-width="0.8"/>
<line x1="1260.50" y1="501.20" x2="1263.50" y2="501.20" stroke="#000" stroke-width="0.8"/>
<line x1="1260.50" y1="494.60" x2="1263.50" y2="494.60" stroke="#000" stroke-width="0.8"/>
<line x1="1260.50" y1="489.03" x2="1263.50" y2="489.03" stroke="#000" stroke-width="0.8"/>
<text transform="translate(1209.90,815.88) rotate(-90)" x="0" y="0" font-size="14.72" textLength="239.10" lengthAdjust="spacingAndGlyphs" fill="#000">Number density of pixels in cutout</text>
<rect x="1270.4" y="672.4" width="206.2" height="47.1" rx="2.8" ry="2.8" fill="#fff" fill-opacity="0.8" stroke="#cccccc" stroke-width="1.1"/>
<rect x="1275" y="679" width="28" height="10" fill="#8080ff"/>
<line x1="1274" y1="705" x2="1304" y2="705" stroke="#ff0000" stroke-width="2.08"/>
<text x="1313.61" y="690.20" font-size="14.72" textLength="157.16" lengthAdjust="spacingAndGlyphs" fill="#000">Transient cutout pixels</text>
<text x="1313.98" y="709.60" font-size="14.72" textLength="109.83" lengthAdjust="spacingAndGlyphs" fill="#000">Candidate peak</text>
</svg></body></html>
